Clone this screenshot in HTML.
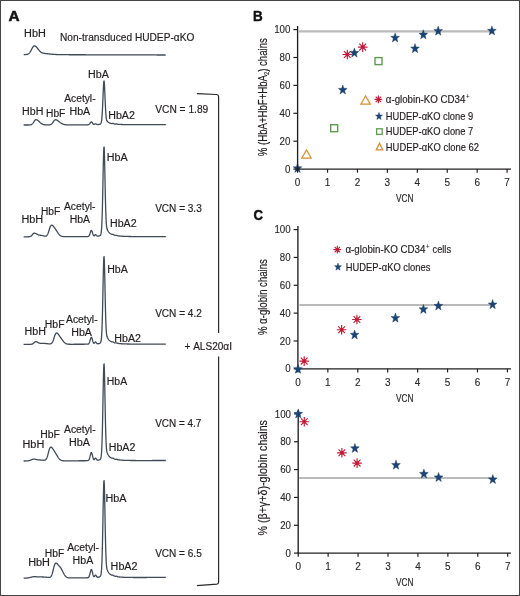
<!DOCTYPE html>
<html><head><meta charset="utf-8"><style>
html,body{margin:0;padding:0;background:#fff;}
#fig{position:relative;width:518px;height:594px;border:1px solid #444;overflow:hidden;background:#fff;}
svg{position:absolute;left:-1px;top:-1px;will-change:transform;}
text{font-family:"Liberation Sans", sans-serif;font-kerning:none;}
</style></head><body><div id="fig">
<svg width="520" height="596" viewBox="0 0 520 596">
<polygon points="297.50,163.40 298.64,166.70 301.87,166.85 299.34,169.05 300.20,172.45 297.50,170.50 294.80,172.45 295.66,169.05 293.13,166.85 296.36,166.70" fill="#1a4576" stroke="#12325a" stroke-width="0.4" stroke-linejoin="miter"/>
<line x1="297.60" y1="26.00" x2="297.60" y2="169.10" stroke="#231f20" stroke-width="1.35"/>
<line x1="296.90" y1="169.10" x2="511.00" y2="169.10" stroke="#231f20" stroke-width="1.35"/>
<line x1="293.40" y1="169.10" x2="297.60" y2="169.10" stroke="#231f20" stroke-width="1.2"/>
<text x="290.40" y="172.70" font-size="11.6" font-weight="normal" fill="#2a2a2a" stroke="#2a2a2a" stroke-width="0.15" text-anchor="end" textLength="5.42" lengthAdjust="spacingAndGlyphs">0</text>
<line x1="293.40" y1="141.20" x2="297.60" y2="141.20" stroke="#231f20" stroke-width="1.2"/>
<text x="290.40" y="144.80" font-size="11.6" font-weight="normal" fill="#2a2a2a" stroke="#2a2a2a" stroke-width="0.15" text-anchor="end" textLength="10.84" lengthAdjust="spacingAndGlyphs">20</text>
<line x1="293.40" y1="113.30" x2="297.60" y2="113.30" stroke="#231f20" stroke-width="1.2"/>
<text x="290.40" y="116.90" font-size="11.6" font-weight="normal" fill="#2a2a2a" stroke="#2a2a2a" stroke-width="0.15" text-anchor="end" textLength="10.84" lengthAdjust="spacingAndGlyphs">40</text>
<line x1="293.40" y1="85.40" x2="297.60" y2="85.40" stroke="#231f20" stroke-width="1.2"/>
<text x="290.40" y="89.00" font-size="11.6" font-weight="normal" fill="#2a2a2a" stroke="#2a2a2a" stroke-width="0.15" text-anchor="end" textLength="10.84" lengthAdjust="spacingAndGlyphs">60</text>
<line x1="293.40" y1="57.50" x2="297.60" y2="57.50" stroke="#231f20" stroke-width="1.2"/>
<text x="290.40" y="61.10" font-size="11.6" font-weight="normal" fill="#2a2a2a" stroke="#2a2a2a" stroke-width="0.15" text-anchor="end" textLength="10.84" lengthAdjust="spacingAndGlyphs">80</text>
<line x1="293.40" y1="29.60" x2="297.60" y2="29.60" stroke="#231f20" stroke-width="1.2"/>
<text x="290.40" y="33.20" font-size="11.6" font-weight="normal" fill="#2a2a2a" stroke="#2a2a2a" stroke-width="0.15" text-anchor="end" textLength="16.25" lengthAdjust="spacingAndGlyphs">100</text>
<line x1="297.60" y1="169.10" x2="297.60" y2="172.70" stroke="#231f20" stroke-width="1.2"/>
<text x="297.60" y="185.90" font-size="11.6" font-weight="normal" fill="#2a2a2a" stroke="#2a2a2a" stroke-width="0.15" text-anchor="middle" textLength="5.55" lengthAdjust="spacingAndGlyphs">0</text>
<line x1="327.53" y1="169.10" x2="327.53" y2="172.70" stroke="#231f20" stroke-width="1.2"/>
<text x="327.53" y="185.90" font-size="11.6" font-weight="normal" fill="#2a2a2a" stroke="#2a2a2a" stroke-width="0.15" text-anchor="middle" textLength="5.55" lengthAdjust="spacingAndGlyphs">1</text>
<line x1="357.46" y1="169.10" x2="357.46" y2="172.70" stroke="#231f20" stroke-width="1.2"/>
<text x="357.46" y="185.90" font-size="11.6" font-weight="normal" fill="#2a2a2a" stroke="#2a2a2a" stroke-width="0.15" text-anchor="middle" textLength="5.55" lengthAdjust="spacingAndGlyphs">2</text>
<line x1="387.39" y1="169.10" x2="387.39" y2="172.70" stroke="#231f20" stroke-width="1.2"/>
<text x="387.39" y="185.90" font-size="11.6" font-weight="normal" fill="#2a2a2a" stroke="#2a2a2a" stroke-width="0.15" text-anchor="middle" textLength="5.55" lengthAdjust="spacingAndGlyphs">3</text>
<line x1="417.32" y1="169.10" x2="417.32" y2="172.70" stroke="#231f20" stroke-width="1.2"/>
<text x="417.32" y="185.90" font-size="11.6" font-weight="normal" fill="#2a2a2a" stroke="#2a2a2a" stroke-width="0.15" text-anchor="middle" textLength="5.55" lengthAdjust="spacingAndGlyphs">4</text>
<line x1="447.25" y1="169.10" x2="447.25" y2="172.70" stroke="#231f20" stroke-width="1.2"/>
<text x="447.25" y="185.90" font-size="11.6" font-weight="normal" fill="#2a2a2a" stroke="#2a2a2a" stroke-width="0.15" text-anchor="middle" textLength="5.55" lengthAdjust="spacingAndGlyphs">5</text>
<line x1="477.18" y1="169.10" x2="477.18" y2="172.70" stroke="#231f20" stroke-width="1.2"/>
<text x="477.18" y="185.90" font-size="11.6" font-weight="normal" fill="#2a2a2a" stroke="#2a2a2a" stroke-width="0.15" text-anchor="middle" textLength="5.55" lengthAdjust="spacingAndGlyphs">6</text>
<line x1="507.11" y1="169.10" x2="507.11" y2="172.70" stroke="#231f20" stroke-width="1.2"/>
<text x="507.11" y="185.90" font-size="11.6" font-weight="normal" fill="#2a2a2a" stroke="#2a2a2a" stroke-width="0.15" text-anchor="middle" textLength="5.55" lengthAdjust="spacingAndGlyphs">7</text>
<text x="396.00" y="201.80" font-size="11.5" font-weight="normal" fill="#2a2a2a" stroke="#2a2a2a" stroke-width="0.2" text-anchor="start" textLength="17.50" lengthAdjust="spacingAndGlyphs">VCN</text>
<text transform="translate(266.80,156.20) rotate(-90)" x="0" y="0" font-size="12.0" fill="#231f20" stroke="#231f20" stroke-width="0.2" textLength="118.00" lengthAdjust="spacingAndGlyphs">% (HbA+HbF+HbA<tspan font-size="7" dy="2">2</tspan><tspan dy="-2">) chains</tspan></text>
<line x1="298.60" y1="31.30" x2="491.50" y2="31.30" stroke="#bababa" stroke-width="2.2"/>
<rect x="330.70" y="124.70" width="7.0" height="7.0" fill="none" stroke="#5e9c50" stroke-width="1.4"/>
<rect x="375.00" y="57.60" width="7.0" height="7.0" fill="none" stroke="#5e9c50" stroke-width="1.4"/>
<polygon points="306.50,149.90 311.20,158.10 301.80,158.10" fill="none" stroke="#d98e36" stroke-width="1.2" stroke-linejoin="miter"/>
<polygon points="365.60,96.00 370.30,104.20 360.90,104.20" fill="none" stroke="#d98e36" stroke-width="1.2" stroke-linejoin="miter"/>
<path d="M342.50,54.50L352.10,54.50M343.91,51.11L350.69,57.89M347.30,49.70L347.30,59.30M350.69,51.11L343.91,57.89" stroke="#c21d3b" stroke-width="1.15" fill="none"/>
<circle cx="347.30" cy="54.50" r="1.92" fill="#c21d3b"/>
<path d="M357.90,47.10L367.50,47.10M359.31,43.71L366.09,50.49M362.70,42.30L362.70,51.90M366.09,43.71L359.31,50.49" stroke="#c21d3b" stroke-width="1.15" fill="none"/>
<circle cx="362.70" cy="47.10" r="1.92" fill="#c21d3b"/>
<polygon points="342.80,85.00 343.94,88.30 347.17,88.45 344.64,90.65 345.50,94.05 342.80,92.10 340.10,94.05 340.96,90.65 338.43,88.45 341.66,88.30" fill="#1a4576" stroke="#12325a" stroke-width="0.4" stroke-linejoin="miter"/>
<polygon points="354.40,48.00 355.54,51.30 358.77,51.45 356.24,53.65 357.10,57.05 354.40,55.10 351.70,57.05 352.56,53.65 350.03,51.45 353.26,51.30" fill="#1a4576" stroke="#12325a" stroke-width="0.4" stroke-linejoin="miter"/>
<polygon points="395.10,32.90 396.24,36.20 399.47,36.35 396.94,38.55 397.80,41.95 395.10,40.00 392.40,41.95 393.26,38.55 390.73,36.35 393.96,36.20" fill="#1a4576" stroke="#12325a" stroke-width="0.4" stroke-linejoin="miter"/>
<polygon points="415.00,43.60 416.14,46.90 419.37,47.05 416.84,49.25 417.70,52.65 415.00,50.70 412.30,52.65 413.16,49.25 410.63,47.05 413.86,46.90" fill="#1a4576" stroke="#12325a" stroke-width="0.4" stroke-linejoin="miter"/>
<polygon points="423.30,29.80 424.44,33.10 427.67,33.25 425.14,35.45 426.00,38.85 423.30,36.90 420.60,38.85 421.46,35.45 418.93,33.25 422.16,33.10" fill="#1a4576" stroke="#12325a" stroke-width="0.4" stroke-linejoin="miter"/>
<polygon points="438.20,26.10 439.34,29.40 442.57,29.55 440.04,31.75 440.90,35.15 438.20,33.20 435.50,35.15 436.36,31.75 433.83,29.55 437.06,29.40" fill="#1a4576" stroke="#12325a" stroke-width="0.4" stroke-linejoin="miter"/>
<polygon points="491.90,25.90 493.04,29.20 496.27,29.35 493.74,31.55 494.60,34.95 491.90,33.00 489.20,34.95 490.06,31.55 487.53,29.35 490.76,29.20" fill="#1a4576" stroke="#12325a" stroke-width="0.4" stroke-linejoin="miter"/>
<path d="M374.60,99.40L382.20,99.40M375.71,96.71L381.09,102.09M378.40,95.60L378.40,103.20M381.09,96.71L375.71,102.09" stroke="#c21d3b" stroke-width="1.15" fill="none"/>
<circle cx="378.40" cy="99.40" r="1.52" fill="#c21d3b"/>
<polygon points="379.00,112.30 379.91,114.94 382.50,115.06 380.47,116.82 381.16,119.54 379.00,117.98 376.84,119.54 377.53,116.82 375.50,115.06 378.09,114.94" fill="#1a4576" stroke="#12325a" stroke-width="0.4" stroke-linejoin="miter"/>
<rect x="376.60" y="128.80" width="5.6" height="5.6" fill="none" stroke="#5e9c50" stroke-width="1.3"/>
<polygon points="379.50,143.30 382.70,149.90 376.30,149.90" fill="none" stroke="#d98e36" stroke-width="1.3" stroke-linejoin="miter"/>
<text x="385.79" y="102.80" font-size="10.3" font-weight="normal" fill="#231f20" stroke="#231f20" stroke-width="0.18" text-anchor="start" textLength="79.59" lengthAdjust="spacingAndGlyphs">α-globin-KO CD34</text>
<text x="466.00" y="98.70" font-size="6.8" font-weight="normal" fill="#231f20" stroke="#231f20" stroke-width="0.1" text-anchor="start" textLength="3.60" lengthAdjust="spacingAndGlyphs">+</text>
<text x="385.83" y="119.70" font-size="10.3" font-weight="normal" fill="#231f20" stroke="#231f20" stroke-width="0.18" text-anchor="start" textLength="87.41" lengthAdjust="spacingAndGlyphs">HUDEP-αKO clone 9</text>
<text x="385.83" y="135.30" font-size="10.3" font-weight="normal" fill="#231f20" stroke="#231f20" stroke-width="0.18" text-anchor="start" textLength="87.44" lengthAdjust="spacingAndGlyphs">HUDEP-αKO clone 7</text>
<text x="385.83" y="150.80" font-size="10.3" font-weight="normal" fill="#231f20" stroke="#231f20" stroke-width="0.18" text-anchor="start" textLength="93.14" lengthAdjust="spacingAndGlyphs">HUDEP-αKO clone 62</text>
<line x1="297.90" y1="226.00" x2="297.90" y2="368.80" stroke="#231f20" stroke-width="1.35"/>
<line x1="297.20" y1="368.80" x2="511.00" y2="368.80" stroke="#231f20" stroke-width="1.35"/>
<line x1="293.70" y1="368.80" x2="297.90" y2="368.80" stroke="#231f20" stroke-width="1.2"/>
<text x="290.70" y="372.40" font-size="11.6" font-weight="normal" fill="#2a2a2a" stroke="#2a2a2a" stroke-width="0.15" text-anchor="end" textLength="5.42" lengthAdjust="spacingAndGlyphs">0</text>
<line x1="293.70" y1="340.96" x2="297.90" y2="340.96" stroke="#231f20" stroke-width="1.2"/>
<text x="290.70" y="344.56" font-size="11.6" font-weight="normal" fill="#2a2a2a" stroke="#2a2a2a" stroke-width="0.15" text-anchor="end" textLength="10.84" lengthAdjust="spacingAndGlyphs">20</text>
<line x1="293.70" y1="313.12" x2="297.90" y2="313.12" stroke="#231f20" stroke-width="1.2"/>
<text x="290.70" y="316.72" font-size="11.6" font-weight="normal" fill="#2a2a2a" stroke="#2a2a2a" stroke-width="0.15" text-anchor="end" textLength="10.84" lengthAdjust="spacingAndGlyphs">40</text>
<line x1="293.70" y1="285.28" x2="297.90" y2="285.28" stroke="#231f20" stroke-width="1.2"/>
<text x="290.70" y="288.88" font-size="11.6" font-weight="normal" fill="#2a2a2a" stroke="#2a2a2a" stroke-width="0.15" text-anchor="end" textLength="10.84" lengthAdjust="spacingAndGlyphs">60</text>
<line x1="293.70" y1="257.44" x2="297.90" y2="257.44" stroke="#231f20" stroke-width="1.2"/>
<text x="290.70" y="261.04" font-size="11.6" font-weight="normal" fill="#2a2a2a" stroke="#2a2a2a" stroke-width="0.15" text-anchor="end" textLength="10.84" lengthAdjust="spacingAndGlyphs">80</text>
<line x1="293.70" y1="229.60" x2="297.90" y2="229.60" stroke="#231f20" stroke-width="1.2"/>
<text x="290.70" y="233.20" font-size="11.6" font-weight="normal" fill="#2a2a2a" stroke="#2a2a2a" stroke-width="0.15" text-anchor="end" textLength="16.25" lengthAdjust="spacingAndGlyphs">100</text>
<line x1="297.90" y1="368.80" x2="297.90" y2="372.40" stroke="#231f20" stroke-width="1.2"/>
<text x="297.90" y="385.60" font-size="11.6" font-weight="normal" fill="#2a2a2a" stroke="#2a2a2a" stroke-width="0.15" text-anchor="middle" textLength="5.55" lengthAdjust="spacingAndGlyphs">0</text>
<line x1="327.83" y1="368.80" x2="327.83" y2="372.40" stroke="#231f20" stroke-width="1.2"/>
<text x="327.83" y="385.60" font-size="11.6" font-weight="normal" fill="#2a2a2a" stroke="#2a2a2a" stroke-width="0.15" text-anchor="middle" textLength="5.55" lengthAdjust="spacingAndGlyphs">1</text>
<line x1="357.76" y1="368.80" x2="357.76" y2="372.40" stroke="#231f20" stroke-width="1.2"/>
<text x="357.76" y="385.60" font-size="11.6" font-weight="normal" fill="#2a2a2a" stroke="#2a2a2a" stroke-width="0.15" text-anchor="middle" textLength="5.55" lengthAdjust="spacingAndGlyphs">2</text>
<line x1="387.69" y1="368.80" x2="387.69" y2="372.40" stroke="#231f20" stroke-width="1.2"/>
<text x="387.69" y="385.60" font-size="11.6" font-weight="normal" fill="#2a2a2a" stroke="#2a2a2a" stroke-width="0.15" text-anchor="middle" textLength="5.55" lengthAdjust="spacingAndGlyphs">3</text>
<line x1="417.62" y1="368.80" x2="417.62" y2="372.40" stroke="#231f20" stroke-width="1.2"/>
<text x="417.62" y="385.60" font-size="11.6" font-weight="normal" fill="#2a2a2a" stroke="#2a2a2a" stroke-width="0.15" text-anchor="middle" textLength="5.55" lengthAdjust="spacingAndGlyphs">4</text>
<line x1="447.55" y1="368.80" x2="447.55" y2="372.40" stroke="#231f20" stroke-width="1.2"/>
<text x="447.55" y="385.60" font-size="11.6" font-weight="normal" fill="#2a2a2a" stroke="#2a2a2a" stroke-width="0.15" text-anchor="middle" textLength="5.55" lengthAdjust="spacingAndGlyphs">5</text>
<line x1="477.48" y1="368.80" x2="477.48" y2="372.40" stroke="#231f20" stroke-width="1.2"/>
<text x="477.48" y="385.60" font-size="11.6" font-weight="normal" fill="#2a2a2a" stroke="#2a2a2a" stroke-width="0.15" text-anchor="middle" textLength="5.55" lengthAdjust="spacingAndGlyphs">6</text>
<line x1="507.41" y1="368.80" x2="507.41" y2="372.40" stroke="#231f20" stroke-width="1.2"/>
<text x="507.41" y="385.60" font-size="11.6" font-weight="normal" fill="#2a2a2a" stroke="#2a2a2a" stroke-width="0.15" text-anchor="middle" textLength="5.55" lengthAdjust="spacingAndGlyphs">7</text>
<text x="396.00" y="401.50" font-size="11.5" font-weight="normal" fill="#2a2a2a" stroke="#2a2a2a" stroke-width="0.2" text-anchor="start" textLength="17.50" lengthAdjust="spacingAndGlyphs">VCN</text>
<text transform="translate(266.80,335.00) rotate(-90)" x="0" y="0" font-size="12.0" fill="#231f20" stroke="#231f20" stroke-width="0.2" textLength="75.80" lengthAdjust="spacingAndGlyphs">% α-globin chains</text>
<line x1="299.40" y1="305.00" x2="490.00" y2="305.00" stroke="#bababa" stroke-width="2.2"/>
<path d="M299.40,361.10L309.00,361.10M300.81,357.71L307.59,364.49M304.20,356.30L304.20,365.90M307.59,357.71L300.81,364.49" stroke="#c21d3b" stroke-width="1.15" fill="none"/>
<circle cx="304.20" cy="361.10" r="1.92" fill="#c21d3b"/>
<path d="M336.80,329.70L346.40,329.70M338.21,326.31L344.99,333.09M341.60,324.90L341.60,334.50M344.99,326.31L338.21,333.09" stroke="#c21d3b" stroke-width="1.15" fill="none"/>
<circle cx="341.60" cy="329.70" r="1.92" fill="#c21d3b"/>
<path d="M352.10,319.50L361.70,319.50M353.51,316.11L360.29,322.89M356.90,314.70L356.90,324.30M360.29,316.11L353.51,322.89" stroke="#c21d3b" stroke-width="1.15" fill="none"/>
<circle cx="356.90" cy="319.50" r="1.92" fill="#c21d3b"/>
<polygon points="298.00,364.30 299.14,367.60 302.37,367.75 299.84,369.95 300.70,373.35 298.00,371.40 295.30,373.35 296.16,369.95 293.63,367.75 296.86,367.60" fill="#1a4576" stroke="#12325a" stroke-width="0.4" stroke-linejoin="miter"/>
<polygon points="354.60,329.90 355.74,333.20 358.97,333.35 356.44,335.55 357.30,338.95 354.60,337.00 351.90,338.95 352.76,335.55 350.23,333.35 353.46,333.20" fill="#1a4576" stroke="#12325a" stroke-width="0.4" stroke-linejoin="miter"/>
<polygon points="395.40,313.10 396.54,316.40 399.77,316.55 397.24,318.75 398.10,322.15 395.40,320.20 392.70,322.15 393.56,318.75 391.03,316.55 394.26,316.40" fill="#1a4576" stroke="#12325a" stroke-width="0.4" stroke-linejoin="miter"/>
<polygon points="423.40,304.40 424.54,307.70 427.77,307.85 425.24,310.05 426.10,313.45 423.40,311.50 420.70,313.45 421.56,310.05 419.03,307.85 422.26,307.70" fill="#1a4576" stroke="#12325a" stroke-width="0.4" stroke-linejoin="miter"/>
<polygon points="438.40,301.00 439.54,304.30 442.77,304.45 440.24,306.65 441.10,310.05 438.40,308.10 435.70,310.05 436.56,306.65 434.03,304.45 437.26,304.30" fill="#1a4576" stroke="#12325a" stroke-width="0.4" stroke-linejoin="miter"/>
<polygon points="492.60,299.60 493.74,302.90 496.97,303.05 494.44,305.25 495.30,308.65 492.60,306.70 489.90,308.65 490.76,305.25 488.23,303.05 491.46,302.90" fill="#1a4576" stroke="#12325a" stroke-width="0.4" stroke-linejoin="miter"/>
<path d="M333.50,249.60L341.10,249.60M334.61,246.91L339.99,252.29M337.30,245.80L337.30,253.40M339.99,246.91L334.61,252.29" stroke="#c21d3b" stroke-width="1.15" fill="none"/>
<circle cx="337.30" cy="249.60" r="1.52" fill="#c21d3b"/>
<polygon points="338.00,263.00 338.91,265.64 341.50,265.76 339.47,267.52 340.16,270.24 338.00,268.68 335.84,270.24 336.53,267.52 334.50,265.76 337.09,265.64" fill="#1a4576" stroke="#12325a" stroke-width="0.4" stroke-linejoin="miter"/>
<text x="345.49" y="253.00" font-size="10.3" font-weight="normal" fill="#231f20" stroke="#231f20" stroke-width="0.18" text-anchor="start" textLength="79.90" lengthAdjust="spacingAndGlyphs">α-globin-KO CD34</text>
<text x="426.00" y="249.00" font-size="6.8" font-weight="normal" fill="#231f20" stroke="#231f20" stroke-width="0.1" text-anchor="start" textLength="3.60" lengthAdjust="spacingAndGlyphs">+</text>
<text x="432.51" y="253.00" font-size="10.3" font-weight="normal" fill="#231f20" stroke="#231f20" stroke-width="0.18" text-anchor="start" textLength="18.53" lengthAdjust="spacingAndGlyphs">cells</text>
<text x="345.83" y="270.90" font-size="10.3" font-weight="normal" fill="#231f20" stroke="#231f20" stroke-width="0.18" text-anchor="start" textLength="84.51" lengthAdjust="spacingAndGlyphs">HUDEP-αKO clones</text>
<line x1="298.20" y1="410.30" x2="298.20" y2="553.10" stroke="#231f20" stroke-width="1.35"/>
<line x1="297.50" y1="553.10" x2="511.00" y2="553.10" stroke="#231f20" stroke-width="1.35"/>
<line x1="294.00" y1="553.10" x2="298.20" y2="553.10" stroke="#231f20" stroke-width="1.2"/>
<text x="291.00" y="556.70" font-size="11.6" font-weight="normal" fill="#2a2a2a" stroke="#2a2a2a" stroke-width="0.15" text-anchor="end" textLength="5.42" lengthAdjust="spacingAndGlyphs">0</text>
<line x1="294.00" y1="525.26" x2="298.20" y2="525.26" stroke="#231f20" stroke-width="1.2"/>
<text x="291.00" y="528.86" font-size="11.6" font-weight="normal" fill="#2a2a2a" stroke="#2a2a2a" stroke-width="0.15" text-anchor="end" textLength="10.84" lengthAdjust="spacingAndGlyphs">20</text>
<line x1="294.00" y1="497.42" x2="298.20" y2="497.42" stroke="#231f20" stroke-width="1.2"/>
<text x="291.00" y="501.02" font-size="11.6" font-weight="normal" fill="#2a2a2a" stroke="#2a2a2a" stroke-width="0.15" text-anchor="end" textLength="10.84" lengthAdjust="spacingAndGlyphs">40</text>
<line x1="294.00" y1="469.58" x2="298.20" y2="469.58" stroke="#231f20" stroke-width="1.2"/>
<text x="291.00" y="473.18" font-size="11.6" font-weight="normal" fill="#2a2a2a" stroke="#2a2a2a" stroke-width="0.15" text-anchor="end" textLength="10.84" lengthAdjust="spacingAndGlyphs">60</text>
<line x1="294.00" y1="441.74" x2="298.20" y2="441.74" stroke="#231f20" stroke-width="1.2"/>
<text x="291.00" y="445.34" font-size="11.6" font-weight="normal" fill="#2a2a2a" stroke="#2a2a2a" stroke-width="0.15" text-anchor="end" textLength="10.84" lengthAdjust="spacingAndGlyphs">80</text>
<line x1="294.00" y1="413.90" x2="298.20" y2="413.90" stroke="#231f20" stroke-width="1.2"/>
<text x="291.00" y="417.50" font-size="11.6" font-weight="normal" fill="#2a2a2a" stroke="#2a2a2a" stroke-width="0.15" text-anchor="end" textLength="16.25" lengthAdjust="spacingAndGlyphs">100</text>
<line x1="298.20" y1="553.10" x2="298.20" y2="556.70" stroke="#231f20" stroke-width="1.2"/>
<text x="298.20" y="569.60" font-size="11.6" font-weight="normal" fill="#2a2a2a" stroke="#2a2a2a" stroke-width="0.15" text-anchor="middle" textLength="5.55" lengthAdjust="spacingAndGlyphs">0</text>
<line x1="328.13" y1="553.10" x2="328.13" y2="556.70" stroke="#231f20" stroke-width="1.2"/>
<text x="328.13" y="569.60" font-size="11.6" font-weight="normal" fill="#2a2a2a" stroke="#2a2a2a" stroke-width="0.15" text-anchor="middle" textLength="5.55" lengthAdjust="spacingAndGlyphs">1</text>
<line x1="358.06" y1="553.10" x2="358.06" y2="556.70" stroke="#231f20" stroke-width="1.2"/>
<text x="358.06" y="569.60" font-size="11.6" font-weight="normal" fill="#2a2a2a" stroke="#2a2a2a" stroke-width="0.15" text-anchor="middle" textLength="5.55" lengthAdjust="spacingAndGlyphs">2</text>
<line x1="387.99" y1="553.10" x2="387.99" y2="556.70" stroke="#231f20" stroke-width="1.2"/>
<text x="387.99" y="569.60" font-size="11.6" font-weight="normal" fill="#2a2a2a" stroke="#2a2a2a" stroke-width="0.15" text-anchor="middle" textLength="5.55" lengthAdjust="spacingAndGlyphs">3</text>
<line x1="417.92" y1="553.10" x2="417.92" y2="556.70" stroke="#231f20" stroke-width="1.2"/>
<text x="417.92" y="569.60" font-size="11.6" font-weight="normal" fill="#2a2a2a" stroke="#2a2a2a" stroke-width="0.15" text-anchor="middle" textLength="5.55" lengthAdjust="spacingAndGlyphs">4</text>
<line x1="447.85" y1="553.10" x2="447.85" y2="556.70" stroke="#231f20" stroke-width="1.2"/>
<text x="447.85" y="569.60" font-size="11.6" font-weight="normal" fill="#2a2a2a" stroke="#2a2a2a" stroke-width="0.15" text-anchor="middle" textLength="5.55" lengthAdjust="spacingAndGlyphs">5</text>
<line x1="477.78" y1="553.10" x2="477.78" y2="556.70" stroke="#231f20" stroke-width="1.2"/>
<text x="477.78" y="569.60" font-size="11.6" font-weight="normal" fill="#2a2a2a" stroke="#2a2a2a" stroke-width="0.15" text-anchor="middle" textLength="5.55" lengthAdjust="spacingAndGlyphs">6</text>
<line x1="507.71" y1="553.10" x2="507.71" y2="556.70" stroke="#231f20" stroke-width="1.2"/>
<text x="507.71" y="569.60" font-size="11.6" font-weight="normal" fill="#2a2a2a" stroke="#2a2a2a" stroke-width="0.15" text-anchor="middle" textLength="5.55" lengthAdjust="spacingAndGlyphs">7</text>
<text x="396.00" y="585.70" font-size="11.5" font-weight="normal" fill="#2a2a2a" stroke="#2a2a2a" stroke-width="0.2" text-anchor="start" textLength="17.50" lengthAdjust="spacingAndGlyphs">VCN</text>
<text transform="translate(266.80,535.40) rotate(-90)" x="0" y="0" font-size="12.0" fill="#231f20" stroke="#231f20" stroke-width="0.2" textLength="115.30" lengthAdjust="spacingAndGlyphs">% (β+γ+δ)-globin chains</text>
<line x1="299.20" y1="478.00" x2="491.00" y2="478.00" stroke="#bababa" stroke-width="2.2"/>
<path d="M299.50,421.70L309.10,421.70M300.91,418.31L307.69,425.09M304.30,416.90L304.30,426.50M307.69,418.31L300.91,425.09" stroke="#c21d3b" stroke-width="1.15" fill="none"/>
<circle cx="304.30" cy="421.70" r="1.92" fill="#c21d3b"/>
<path d="M337.10,452.80L346.70,452.80M338.51,449.41L345.29,456.19M341.90,448.00L341.90,457.60M345.29,449.41L338.51,456.19" stroke="#c21d3b" stroke-width="1.15" fill="none"/>
<circle cx="341.90" cy="452.80" r="1.92" fill="#c21d3b"/>
<path d="M352.30,463.10L361.90,463.10M353.71,459.71L360.49,466.49M357.10,458.30L357.10,467.90M360.49,459.71L353.71,466.49" stroke="#c21d3b" stroke-width="1.15" fill="none"/>
<circle cx="357.10" cy="463.10" r="1.92" fill="#c21d3b"/>
<polygon points="298.30,408.90 299.44,412.20 302.67,412.35 300.14,414.55 301.00,417.95 298.30,416.00 295.60,417.95 296.46,414.55 293.93,412.35 297.16,412.20" fill="#1a4576" stroke="#12325a" stroke-width="0.4" stroke-linejoin="miter"/>
<polygon points="354.90,443.40 356.04,446.70 359.27,446.85 356.74,449.05 357.60,452.45 354.90,450.50 352.20,452.45 353.06,449.05 350.53,446.85 353.76,446.70" fill="#1a4576" stroke="#12325a" stroke-width="0.4" stroke-linejoin="miter"/>
<polygon points="396.00,460.10 397.14,463.40 400.37,463.55 397.84,465.75 398.70,469.15 396.00,467.20 393.30,469.15 394.16,465.75 391.63,463.55 394.86,463.40" fill="#1a4576" stroke="#12325a" stroke-width="0.4" stroke-linejoin="miter"/>
<polygon points="423.90,469.00 425.04,472.30 428.27,472.45 425.74,474.65 426.60,478.05 423.90,476.10 421.20,478.05 422.06,474.65 419.53,472.45 422.76,472.30" fill="#1a4576" stroke="#12325a" stroke-width="0.4" stroke-linejoin="miter"/>
<polygon points="438.60,472.50 439.74,475.80 442.97,475.95 440.44,478.15 441.30,481.55 438.60,479.60 435.90,481.55 436.76,478.15 434.23,475.95 437.46,475.80" fill="#1a4576" stroke="#12325a" stroke-width="0.4" stroke-linejoin="miter"/>
<polygon points="492.80,474.50 493.94,477.80 497.17,477.95 494.64,480.15 495.50,483.55 492.80,481.60 490.10,483.55 490.96,480.15 488.43,477.95 491.66,477.80" fill="#1a4576" stroke="#12325a" stroke-width="0.4" stroke-linejoin="miter"/>
<text x="8.52" y="20.60" font-size="14.4" font-weight="bold" fill="#111" stroke="#111" stroke-width="0.5" text-anchor="start" textLength="11.09" lengthAdjust="spacingAndGlyphs">A</text>
<text x="252.90" y="21.30" font-size="14.8" font-weight="bold" fill="#111" stroke="#111" stroke-width="0.5" text-anchor="start" textLength="9.71" lengthAdjust="spacingAndGlyphs">B</text>
<text x="253.46" y="219.50" font-size="14.6" font-weight="bold" fill="#111" stroke="#111" stroke-width="0.5" text-anchor="start" textLength="9.50" lengthAdjust="spacingAndGlyphs">C</text>
<polyline points="23.70,54.60 23.95,54.60 24.20,54.59 24.45,54.59 24.70,54.59 24.95,54.58 25.20,54.57 25.45,54.56 25.70,54.55 25.95,54.53 26.20,54.51 26.45,54.48 26.70,54.44 26.95,54.40 27.20,54.34 27.45,54.27 27.70,54.18 27.95,54.07 28.20,53.94 28.45,53.79 28.70,53.61 28.95,53.41 29.20,53.17 29.45,52.90 29.70,52.60 29.95,52.27 30.20,51.90 30.45,51.50 30.70,51.08 30.95,50.63 31.20,50.16 31.45,49.68 31.70,49.20 31.95,48.71 32.20,48.24 32.45,47.79 32.70,47.37 32.95,46.98 33.20,46.64 33.45,46.36 33.70,46.14 33.95,45.98 34.20,45.89 34.45,45.87 34.70,45.89 34.95,45.95 35.20,46.06 35.45,46.20 35.70,46.37 35.95,46.58 36.20,46.81 36.45,47.07 36.70,47.35 36.95,47.64 37.20,47.95 37.45,48.26 37.70,48.58 37.95,48.90 38.20,49.22 38.45,49.53 38.70,49.83 38.95,50.13 39.20,50.42 39.45,50.69 39.70,50.95 39.95,51.21 40.20,51.44 40.45,51.67 40.70,51.89 40.95,52.08 41.20,52.26 41.45,52.42 41.70,52.56 41.95,52.69 42.20,52.80 42.45,52.90 42.70,53.00 42.95,53.08 43.20,53.15 43.45,53.21 43.70,53.27 43.95,53.32 44.20,53.37 44.45,53.41 44.70,53.45 44.95,53.48 45.20,53.52 45.45,53.55 45.70,53.58 45.95,53.61 46.20,53.64 46.45,53.66 46.70,53.69 46.95,53.72 47.20,53.74 47.45,53.77 47.70,53.80 47.95,53.82 48.20,53.85 48.45,53.87 48.70,53.90 48.95,53.93 49.20,53.95 49.45,53.98 49.70,54.00 49.95,54.03 50.20,54.05 50.45,54.08 50.70,54.10 50.95,54.12 51.20,54.15 51.45,54.17 51.70,54.19 51.95,54.21 52.20,54.23 52.45,54.25 52.70,54.28 52.95,54.30 53.20,54.31 53.45,54.33 53.70,54.35 53.95,54.37 54.20,54.39 54.45,54.40 54.70,54.42 54.95,54.43 55.20,54.45 55.45,54.46 55.70,54.48 55.95,54.49 56.20,54.50 56.45,54.51 56.70,54.53 56.95,54.54 57.20,54.55 57.45,54.56 57.70,54.57 57.95,54.58 58.20,54.58 58.45,54.59 58.70,54.60 58.95,54.61 59.20,54.62 59.45,54.62 59.70,54.63 59.95,54.63 60.20,54.64 60.45,54.65 60.70,54.65 60.95,54.66 61.20,54.66 61.45,54.66 61.70,54.67 61.95,54.67 62.20,54.68 62.45,54.68 62.70,54.68 62.95,54.69 63.20,54.69 63.45,54.69 63.70,54.69 63.95,54.70 64.20,54.70 64.45,54.70 64.70,54.70 64.95,54.70 65.20,54.71 65.45,54.71 65.70,54.71 65.95,54.71 66.20,54.71 66.45,54.71 66.70,54.72 66.95,54.72 67.20,54.72 67.45,54.72 67.70,54.72 67.95,54.72 68.20,54.72 68.45,54.72 68.70,54.72 68.95,54.73 69.20,54.73 69.45,54.73 69.70,54.73 69.95,54.73 70.20,54.73 70.45,54.73 70.70,54.73 70.95,54.73 71.20,54.73 71.45,54.73 71.70,54.73 71.95,54.74 72.20,54.74 72.45,54.74 72.70,54.74 72.95,54.74 73.20,54.74 73.45,54.74 73.70,54.74 73.95,54.74 74.20,54.74 74.45,54.74 74.70,54.74 74.95,54.74 75.20,54.74 75.45,54.75 75.70,54.75 75.95,54.75 76.20,54.75 76.45,54.75 76.70,54.75 76.95,54.75 77.20,54.75 77.45,54.75 77.70,54.75 77.95,54.75 78.20,54.75 78.45,54.75 78.70,54.75 78.95,54.76 79.20,54.76 79.45,54.76 79.70,54.76 79.95,54.76 80.20,54.76 80.45,54.76 80.70,54.76 80.95,54.76 81.20,54.76 81.45,54.76 81.70,54.76 81.95,54.76 82.20,54.76 82.45,54.77 82.70,54.77 82.95,54.77 83.20,54.77 83.45,54.77 83.70,54.77 83.95,54.77 84.20,54.77 84.45,54.77 84.70,54.77 84.95,54.77 85.20,54.77 85.45,54.77 85.70,54.77 85.95,54.78 86.20,54.78 86.45,54.78 86.70,54.78 86.95,54.78 87.20,54.78 87.45,54.78 87.70,54.78 87.95,54.78 88.20,54.78 88.45,54.78 88.70,54.78 88.95,54.78 89.20,54.78 89.45,54.79 89.70,54.79 89.95,54.79 90.20,54.79 90.45,54.79 90.70,54.79 90.95,54.79 91.20,54.79 91.45,54.79 91.70,54.79 91.95,54.79 92.20,54.79 92.45,54.79 92.70,54.79 92.95,54.80 93.20,54.80 93.45,54.80 93.70,54.80 93.95,54.80 94.20,54.80 94.45,54.80 94.70,54.80 94.95,54.80 95.20,54.80 95.45,54.80 95.70,54.80 95.95,54.80 96.20,54.80 96.45,54.80 96.70,54.81 96.95,54.81 97.20,54.81 97.45,54.81 97.70,54.81 97.95,54.81 98.20,54.81 98.45,54.81 98.70,54.81 98.95,54.81 99.20,54.81 99.45,54.81 99.70,54.81 99.95,54.81 100.20,54.82 100.45,54.82 100.70,54.82 100.95,54.82 101.20,54.82 101.45,54.82 101.70,54.82 101.95,54.82 102.20,54.82 102.45,54.82 102.70,54.82 102.95,54.82 103.20,54.82 103.45,54.82 103.70,54.83 103.95,54.83 104.20,54.83 104.45,54.83 104.70,54.83 104.95,54.83 105.20,54.83 105.45,54.83 105.70,54.83 105.95,54.83 106.20,54.83 106.45,54.83 106.70,54.83 106.95,54.83 107.20,54.84 107.45,54.84 107.70,54.84 107.95,54.84 108.20,54.84 108.45,54.84 108.70,54.84 108.95,54.84 109.20,54.84 109.45,54.84 109.70,54.84 109.95,54.84 110.20,54.84 110.45,54.84 110.70,54.85 110.95,54.85 111.20,54.85 111.45,54.85 111.70,54.85 111.95,54.85 112.20,54.85 112.45,54.85 112.70,54.85 112.95,54.85 113.20,54.85 113.45,54.85 113.70,54.85 113.95,54.85 114.20,54.85 114.45,54.86 114.70,54.86 114.95,54.86 115.20,54.86 115.45,54.86 115.70,54.86 115.95,54.86 116.20,54.86 116.45,54.86 116.70,54.86 116.95,54.86 117.20,54.86 117.45,54.86 117.70,54.86 117.95,54.87 118.20,54.87 118.45,54.87 118.70,54.87 118.95,54.87 119.20,54.87 119.45,54.87 119.70,54.87 119.95,54.87 120.20,54.87 120.45,54.87 120.70,54.87 120.95,54.87 121.20,54.87 121.45,54.88 121.70,54.88 121.95,54.88 122.20,54.88 122.45,54.88 122.70,54.88 122.95,54.88 123.20,54.88 123.45,54.88 123.70,54.88 123.95,54.88 124.20,54.88 124.45,54.88 124.70,54.88 124.95,54.89 125.20,54.89 125.45,54.89 125.70,54.89 125.95,54.89 126.20,54.89 126.45,54.89 126.70,54.89 126.95,54.89 127.20,54.89 127.45,54.89 127.70,54.89 127.95,54.89 128.20,54.89 128.45,54.90 128.70,54.90 128.95,54.90 129.20,54.90 129.45,54.90 129.70,54.90 129.95,54.90 130.20,54.90 130.45,54.90 130.70,54.90 130.95,54.90 131.20,54.90 131.45,54.90 131.70,54.90 131.95,54.90 132.20,54.91 132.45,54.91 132.70,54.91 132.95,54.91 133.20,54.91 133.45,54.91 133.70,54.91 133.95,54.91 134.20,54.91 134.45,54.91 134.70,54.91 134.95,54.91 135.20,54.91 135.45,54.91 135.70,54.92 135.95,54.92 136.20,54.92 136.45,54.92 136.70,54.92 136.95,54.92 137.20,54.92 137.45,54.92 137.70,54.92 137.95,54.92 138.20,54.92 138.45,54.92 138.70,54.92 138.95,54.92 139.20,54.93 139.45,54.93 139.70,54.93 139.95,54.93 140.20,54.93 140.45,54.93 140.70,54.93 140.95,54.93 141.20,54.93 141.45,54.93 141.70,54.93 141.95,54.93 142.20,54.93 142.45,54.93 142.70,54.94 142.95,54.94 143.20,54.94 143.45,54.94 143.70,54.94 143.95,54.94 144.20,54.94 144.45,54.94 144.70,54.94 144.95,54.94 145.20,54.94 145.45,54.94 145.70,54.94 145.95,54.94 146.20,54.95 146.45,54.95 146.70,54.95 146.95,54.95 147.20,54.95 147.45,54.95 147.70,54.95 147.95,54.95 148.20,54.95 148.45,54.95 148.70,54.95 148.95,54.95 149.20,54.95 149.45,54.95 149.70,54.95 149.95,54.96 150.20,54.96 150.45,54.96 150.70,54.96 150.95,54.96 151.20,54.96 151.45,54.96 151.70,54.96 151.95,54.96 152.20,54.96 152.45,54.96 152.70,54.96 152.95,54.96 153.20,54.96 153.45,54.97 153.70,54.97 153.95,54.97 154.20,54.97 154.45,54.97 154.70,54.97 154.95,54.97 155.20,54.97 155.45,54.97 155.70,54.97 155.95,54.97 156.20,54.97 156.45,54.97 156.70,54.97 156.95,54.98 157.20,54.98 157.45,54.98 157.70,54.98 157.95,54.98 158.20,54.98 158.45,54.98 158.70,54.98 158.95,54.98 159.20,54.98 159.45,54.98 159.70,54.98 159.95,54.98 160.20,54.98 160.45,54.99 160.70,54.99 160.95,54.99 161.20,54.99 161.45,54.99 161.70,54.99 161.95,54.99 162.20,54.99 162.45,54.99 162.70,54.99 162.95,54.99 163.20,54.99 163.45,54.99 163.70,54.99 163.95,55.00 164.20,55.00 164.45,55.00 164.70,55.00 164.95,55.00 165.20,55.00 165.45,55.00 165.70,55.00" fill="none" stroke="#414b58" stroke-width="1.3" stroke-linejoin="round"/>
<text x="24.11" y="37.00" font-size="10.0" font-weight="normal" fill="#231f20" stroke="#231f20" stroke-width="0.18" text-anchor="start" textLength="21.78" lengthAdjust="spacingAndGlyphs">HbH</text>
<text x="59.97" y="41.00" font-size="10.3" font-weight="normal" fill="#231f20" stroke="#231f20" stroke-width="0.18" text-anchor="start" textLength="134.32" lengthAdjust="spacingAndGlyphs">Non-transduced HUDEP-αKO</text>
<polyline points="23.60,125.00 23.85,125.00 24.10,125.00 24.35,125.00 24.60,125.00 24.85,125.00 25.10,124.99 25.35,124.99 25.60,124.99 25.85,124.99 26.10,124.99 26.35,124.99 26.60,124.99 26.85,124.99 27.10,124.99 27.35,124.99 27.60,124.99 27.85,124.98 28.10,124.98 28.35,124.98 28.60,124.98 28.85,124.97 29.10,124.97 29.35,124.96 29.60,124.94 29.85,124.93 30.10,124.90 30.35,124.87 30.60,124.82 30.85,124.76 31.10,124.68 31.35,124.58 31.60,124.45 31.85,124.29 32.10,124.10 32.35,123.88 32.60,123.61 32.85,123.32 33.10,122.98 33.35,122.62 33.60,122.23 33.85,121.84 34.10,121.43 34.35,121.04 34.60,120.68 34.85,120.35 35.10,120.07 35.35,119.86 35.60,119.72 35.85,119.67 36.10,119.67 36.35,119.71 36.60,119.77 36.85,119.86 37.10,119.98 37.35,120.12 37.60,120.28 37.85,120.46 38.10,120.66 38.35,120.87 38.60,121.09 38.85,121.32 39.10,121.55 39.35,121.79 39.60,122.02 39.85,122.25 40.10,122.48 40.35,122.70 40.60,122.91 40.85,123.11 41.10,123.30 41.35,123.48 41.60,123.65 41.85,123.80 42.10,123.94 42.35,124.07 42.60,124.18 42.85,124.29 43.10,124.38 43.35,124.46 43.60,124.53 43.85,124.60 44.10,124.65 44.35,124.70 44.60,124.74 44.85,124.77 45.10,124.80 45.35,124.82 45.60,124.84 45.85,124.86 46.10,124.87 46.35,124.89 46.60,124.89 46.85,124.90 47.10,124.90 47.35,124.91 47.60,124.91 47.85,124.91 48.10,124.91 48.35,124.90 48.60,124.89 48.85,124.88 49.10,124.86 49.35,124.84 49.60,124.81 49.85,124.77 50.10,124.71 50.35,124.64 50.60,124.55 50.85,124.43 51.10,124.29 51.35,124.11 51.60,123.91 51.85,123.67 52.10,123.39 52.35,123.09 52.60,122.76 52.85,122.40 53.10,122.04 53.35,121.67 53.60,121.30 53.85,120.96 54.10,120.64 54.35,120.36 54.60,120.14 54.85,119.97 55.10,119.85 55.35,119.77 55.60,119.74 55.85,119.74 56.10,119.78 56.35,119.85 56.60,119.95 56.85,120.08 57.10,120.22 57.35,120.39 57.60,120.56 57.85,120.75 58.10,120.94 58.35,121.13 58.60,121.32 58.85,121.52 59.10,121.71 59.35,121.90 59.60,122.08 59.85,122.26 60.10,122.44 60.35,122.62 60.60,122.79 60.85,122.95 61.10,123.11 61.35,123.27 61.60,123.42 61.85,123.56 62.10,123.69 62.35,123.82 62.60,123.94 62.85,124.05 63.10,124.15 63.35,124.25 63.60,124.33 63.85,124.41 64.10,124.48 64.35,124.54 64.60,124.59 64.85,124.64 65.10,124.68 65.35,124.71 65.60,124.74 65.85,124.77 66.10,124.79 66.35,124.80 66.60,124.82 66.85,124.83 67.10,124.84 67.35,124.84 67.60,124.85 67.85,124.85 68.10,124.86 68.35,124.86 68.60,124.86 68.85,124.86 69.10,124.86 69.35,124.86 69.60,124.86 69.85,124.86 70.10,124.86 70.35,124.86 70.60,124.86 70.85,124.86 71.10,124.86 71.35,124.86 71.60,124.86 71.85,124.86 72.10,124.85 72.35,124.85 72.60,124.85 72.85,124.85 73.10,124.85 73.35,124.85 73.60,124.85 73.85,124.85 74.10,124.85 74.35,124.85 74.60,124.85 74.85,124.85 75.10,124.84 75.35,124.84 75.60,124.84 75.85,124.84 76.10,124.84 76.35,124.84 76.60,124.84 76.85,124.84 77.10,124.84 77.35,124.84 77.60,124.84 77.85,124.83 78.10,124.83 78.35,124.83 78.60,124.83 78.85,124.83 79.10,124.83 79.35,124.83 79.60,124.83 79.85,124.83 80.10,124.83 80.35,124.82 80.60,124.82 80.85,124.82 81.10,124.82 81.35,124.82 81.60,124.82 81.85,124.82 82.10,124.82 82.35,124.82 82.60,124.81 82.85,124.81 83.10,124.81 83.35,124.81 83.60,124.81 83.85,124.81 84.10,124.81 84.35,124.81 84.60,124.81 84.85,124.80 85.10,124.80 85.35,124.80 85.60,124.80 85.85,124.80 86.10,124.80 86.35,124.79 86.60,124.79 86.85,124.79 87.10,124.79 87.35,124.78 87.60,124.77 87.85,124.75 88.10,124.72 88.35,124.67 88.60,124.59 88.85,124.47 89.10,124.31 89.35,124.10 89.60,123.83 89.85,123.51 90.10,123.15 90.35,122.79 90.60,122.44 90.85,122.15 91.10,121.95 91.35,121.86 91.60,121.90 91.85,122.08 92.10,122.38 92.35,122.74 92.60,123.14 92.85,123.51 93.10,123.84 93.35,124.10 93.60,124.28 93.85,124.37 94.10,124.38 94.35,124.32 94.60,124.20 94.85,124.05 95.10,123.91 95.35,123.82 95.60,123.81 95.85,123.87 96.10,124.00 96.35,124.15 96.60,124.30 96.85,124.42 97.10,124.49 97.35,124.54 97.60,124.56 97.85,124.55 98.10,124.54 98.35,124.52 98.60,124.50 98.85,124.47 99.10,124.44 99.35,124.40 99.60,124.36 99.85,124.30 100.10,124.22 100.35,124.10 100.60,123.91 100.85,123.58 101.10,123.04 101.35,122.15 101.60,120.74 101.85,118.61 102.10,115.56 102.35,111.49 102.60,106.42 102.85,100.56 103.10,94.39 103.35,88.58 103.60,83.94 103.85,81.24 104.10,80.99 104.35,83.33 104.60,87.73 104.85,93.32 105.10,99.27 105.35,104.90 105.60,109.78 105.85,113.69 106.10,116.61 106.35,118.62 106.60,119.90 106.85,120.65 107.10,121.07 107.35,121.33 107.60,121.57 107.85,121.86 108.10,122.08 108.35,122.28 108.60,122.44 108.85,122.59 109.10,122.72 109.35,122.84 109.60,122.95 109.85,123.05 110.10,123.14 110.35,123.22 110.60,123.30 110.85,123.37 111.10,123.44 111.35,123.50 111.60,123.55 111.85,123.58 112.10,123.58 112.35,123.54 112.60,123.46 112.85,123.39 113.10,123.36 113.35,123.41 113.60,123.53 113.85,123.68 114.10,123.83 114.35,123.95 114.60,124.02 114.85,124.06 115.10,124.08 115.35,124.08 115.60,124.05 115.85,123.99 116.10,123.93 116.35,123.89 116.60,123.90 116.85,123.97 117.10,124.07 117.35,124.17 117.60,124.25 117.85,124.31 118.10,124.34 118.35,124.36 118.60,124.38 118.85,124.39 119.10,124.40 119.35,124.41 119.60,124.42 119.85,124.44 120.10,124.45 120.35,124.46 120.60,124.47 120.85,124.47 121.10,124.48 121.35,124.49 121.60,124.50 121.85,124.51 122.10,124.51 122.35,124.52 122.60,124.53 122.85,124.53 123.10,124.54 123.35,124.55 123.60,124.55 123.85,124.56 124.10,124.56 124.35,124.57 124.60,124.57 124.85,124.58 125.10,124.58 125.35,124.58 125.60,124.59 125.85,124.59 126.10,124.59 126.35,124.60 126.60,124.60 126.85,124.60 127.10,124.61 127.35,124.61 127.60,124.61 127.85,124.61 128.10,124.62 128.35,124.62 128.60,124.62 128.85,124.62 129.10,124.62 129.35,124.63 129.60,124.63 129.85,124.63 130.10,124.63 130.35,124.63 130.60,124.63 130.85,124.63 131.10,124.64 131.35,124.64 131.60,124.64 131.85,124.64 132.10,124.64 132.35,124.64 132.60,124.64 132.85,124.64 133.10,124.64 133.35,124.64 133.60,124.64 133.85,124.65 134.10,124.65 134.35,124.65 134.60,124.65 134.85,124.65 135.10,124.65 135.35,124.65 135.60,124.65 135.85,124.65 136.10,124.65 136.35,124.65 136.60,124.65 136.85,124.65 137.10,124.65 137.35,124.65 137.60,124.65 137.85,124.65 138.10,124.65 138.35,124.65 138.60,124.65 138.85,124.65 139.10,124.65 139.35,124.65 139.60,124.65 139.85,124.65 140.10,124.65 140.35,124.65 140.60,124.65 140.85,124.65 141.10,124.65 141.35,124.65 141.60,124.65 141.85,124.65 142.10,124.65 142.35,124.65 142.60,124.65 142.85,124.65 143.10,124.65 143.35,124.65 143.60,124.64 143.85,124.64 144.10,124.64 144.35,124.64 144.60,124.64 144.85,124.64 145.10,124.64 145.35,124.64 145.60,124.64 145.85,124.64 146.10,124.64 146.35,124.64 146.60,124.64 146.85,124.64 147.10,124.64 147.35,124.64 147.60,124.64 147.85,124.64 148.10,124.64 148.35,124.64 148.60,124.64 148.85,124.64 149.10,124.63 149.35,124.63 149.60,124.63 149.85,124.63 150.10,124.63 150.35,124.63 150.60,124.63 150.85,124.63 151.10,124.63 151.35,124.63 151.60,124.63 151.85,124.63 152.10,124.63 152.35,124.63 152.60,124.63 152.85,124.63 153.10,124.63 153.35,124.63 153.60,124.63 153.85,124.62 154.10,124.62 154.35,124.62 154.60,124.62 154.85,124.62 155.10,124.62 155.35,124.62 155.60,124.62 155.85,124.62 156.10,124.62 156.35,124.62 156.60,124.62 156.85,124.62 157.10,124.62 157.35,124.62 157.60,124.62 157.85,124.61 158.10,124.61 158.35,124.61 158.60,124.61 158.85,124.61 159.10,124.61 159.35,124.61 159.60,124.61 159.85,124.61 160.10,124.61 160.35,124.61 160.60,124.61 160.85,124.61 161.10,124.61 161.35,124.61 161.60,124.61 161.85,124.60 162.10,124.60 162.35,124.60 162.60,124.60 162.85,124.60 163.10,124.60 163.35,124.60 163.60,124.60 163.85,124.60 164.10,124.60 164.35,124.60 164.60,124.60 164.85,124.60 165.10,124.60 165.35,124.60 165.60,124.60 165.85,124.59" fill="none" stroke="#414b58" stroke-width="1.3" stroke-linejoin="round"/>
<text x="88.12" y="77.80" font-size="10.0" font-weight="normal" fill="#231f20" stroke="#231f20" stroke-width="0.18" text-anchor="start" textLength="20.80" lengthAdjust="spacingAndGlyphs">HbA</text>
<text x="64.28" y="102.40" font-size="10.0" font-weight="normal" fill="#231f20" stroke="#231f20" stroke-width="0.18" text-anchor="start" textLength="31.27" lengthAdjust="spacingAndGlyphs">Acetyl-</text>
<text x="22.12" y="115.00" font-size="10.0" font-weight="normal" fill="#231f20" stroke="#231f20" stroke-width="0.18" text-anchor="start" textLength="21.35" lengthAdjust="spacingAndGlyphs">HbH</text>
<text x="46.06" y="116.70" font-size="10.0" font-weight="normal" fill="#231f20" stroke="#231f20" stroke-width="0.18" text-anchor="start" textLength="19.24" lengthAdjust="spacingAndGlyphs">HbF</text>
<text x="69.53" y="114.80" font-size="10.0" font-weight="normal" fill="#231f20" stroke="#231f20" stroke-width="0.18" text-anchor="start" textLength="20.69" lengthAdjust="spacingAndGlyphs">HbA</text>
<text x="108.23" y="119.40" font-size="10.0" font-weight="normal" fill="#231f20" stroke="#231f20" stroke-width="0.18" text-anchor="start" textLength="26.61" lengthAdjust="spacingAndGlyphs">HbA2</text>
<text x="155.26" y="113.00" font-size="10.0" font-weight="normal" fill="#231f20" stroke="#231f20" stroke-width="0.18" text-anchor="start" textLength="53.03" lengthAdjust="spacingAndGlyphs">VCN = 1.89</text>
<polyline points="23.60,236.80 23.85,236.80 24.10,236.80 24.35,236.80 24.60,236.80 24.85,236.80 25.10,236.79 25.35,236.79 25.60,236.79 25.85,236.79 26.10,236.79 26.35,236.79 26.60,236.79 26.85,236.79 27.10,236.79 27.35,236.79 27.60,236.79 27.85,236.78 28.10,236.78 28.35,236.77 28.60,236.76 28.85,236.75 29.10,236.72 29.35,236.69 29.60,236.65 29.85,236.59 30.10,236.52 30.35,236.42 30.60,236.30 30.85,236.15 31.10,235.97 31.35,235.76 31.60,235.52 31.85,235.25 32.10,234.96 32.35,234.66 32.60,234.36 32.85,234.06 33.10,233.79 33.35,233.56 33.60,233.37 33.85,233.24 34.10,233.17 34.35,233.17 34.60,233.19 34.85,233.23 35.10,233.29 35.35,233.38 35.60,233.48 35.85,233.59 36.10,233.72 36.35,233.85 36.60,233.99 36.85,234.13 37.10,234.27 37.35,234.40 37.60,234.53 37.85,234.65 38.10,234.75 38.35,234.85 38.60,234.93 38.85,235.01 39.10,235.07 39.35,235.12 39.60,235.16 39.85,235.20 40.10,235.23 40.35,235.25 40.60,235.28 40.85,235.30 41.10,235.33 41.35,235.36 41.60,235.40 41.85,235.44 42.10,235.49 42.35,235.54 42.60,235.61 42.85,235.67 43.10,235.74 43.35,235.81 43.60,235.88 43.85,235.95 44.10,236.02 44.35,236.08 44.60,236.14 44.85,236.18 45.10,236.20 45.35,236.21 45.60,236.19 45.85,236.14 46.10,236.05 46.35,235.92 46.60,235.73 46.85,235.48 47.10,235.17 47.35,234.79 47.60,234.32 47.85,233.78 48.10,233.17 48.35,232.48 48.60,231.73 48.85,230.94 49.10,230.13 49.35,229.31 49.60,228.51 49.85,227.76 50.10,227.09 50.35,226.50 50.60,226.03 50.85,225.67 51.10,225.41 51.35,225.24 51.60,225.14 51.85,225.12 52.10,225.18 52.35,225.29 52.60,225.47 52.85,225.68 53.10,225.94 53.35,226.22 53.60,226.53 53.85,226.86 54.10,227.19 54.35,227.53 54.60,227.88 54.85,228.24 55.10,228.60 55.35,228.96 55.60,229.33 55.85,229.70 56.10,230.08 56.35,230.46 56.60,230.84 56.85,231.23 57.10,231.62 57.35,232.00 57.60,232.38 57.85,232.75 58.10,233.11 58.35,233.46 58.60,233.80 58.85,234.11 59.10,234.41 59.35,234.69 59.60,234.94 59.85,235.18 60.10,235.39 60.35,235.58 60.60,235.75 60.85,235.91 61.10,236.04 61.35,236.15 61.60,236.25 61.85,236.34 62.10,236.41 62.35,236.47 62.60,236.52 62.85,236.56 63.10,236.60 63.35,236.63 63.60,236.65 63.85,236.67 64.10,236.68 64.35,236.69 64.60,236.70 64.85,236.71 65.10,236.71 65.35,236.72 65.60,236.72 65.85,236.72 66.10,236.72 66.35,236.72 66.60,236.72 66.85,236.72 67.10,236.72 67.35,236.72 67.60,236.72 67.85,236.72 68.10,236.72 68.35,236.72 68.60,236.72 68.85,236.72 69.10,236.72 69.35,236.72 69.60,236.72 69.85,236.72 70.10,236.72 70.35,236.72 70.60,236.72 70.85,236.72 71.10,236.72 71.35,236.72 71.60,236.72 71.85,236.71 72.10,236.71 72.35,236.71 72.60,236.71 72.85,236.71 73.10,236.71 73.35,236.71 73.60,236.71 73.85,236.71 74.10,236.71 74.35,236.71 74.60,236.71 74.85,236.71 75.10,236.71 75.35,236.71 75.60,236.70 75.85,236.70 76.10,236.70 76.35,236.70 76.60,236.70 76.85,236.70 77.10,236.70 77.35,236.70 77.60,236.70 77.85,236.70 78.10,236.70 78.35,236.70 78.60,236.69 78.85,236.69 79.10,236.69 79.35,236.69 79.60,236.69 79.85,236.69 80.10,236.69 80.35,236.69 80.60,236.69 80.85,236.69 81.10,236.68 81.35,236.68 81.60,236.68 81.85,236.68 82.10,236.68 82.35,236.68 82.60,236.68 82.85,236.68 83.10,236.67 83.35,236.67 83.60,236.67 83.85,236.67 84.10,236.67 84.35,236.67 84.60,236.67 84.85,236.66 85.10,236.66 85.35,236.66 85.60,236.66 85.85,236.66 86.10,236.66 86.35,236.65 86.60,236.65 86.85,236.64 87.10,236.64 87.35,236.62 87.60,236.60 87.85,236.56 88.10,236.50 88.35,236.39 88.60,236.22 88.85,235.98 89.10,235.64 89.35,235.18 89.60,234.61 89.85,233.92 90.10,233.17 90.35,232.38 90.60,231.64 90.85,231.02 91.10,230.59 91.35,230.40 91.60,230.49 91.85,230.88 92.10,231.51 92.35,232.30 92.60,233.14 92.85,233.95 93.10,234.65 93.35,235.20 93.60,235.59 93.85,235.79 94.10,235.81 94.35,235.68 94.60,235.42 94.85,235.10 95.10,234.81 95.35,234.62 95.60,234.60 95.85,234.74 96.10,235.01 96.35,235.34 96.60,235.65 96.85,235.90 97.10,236.07 97.35,236.17 97.60,236.21 97.85,236.21 98.10,236.19 98.35,236.15 98.60,236.10 98.85,236.05 99.10,235.98 99.35,235.91 99.60,235.81 99.85,235.69 100.10,235.53 100.35,235.29 100.60,234.89 100.85,234.24 101.10,233.13 101.35,231.31 101.60,228.42 101.85,224.05 102.10,217.82 102.35,209.48 102.60,199.09 102.85,187.10 103.10,174.47 103.35,162.58 103.60,153.07 103.85,147.53 104.10,147.03 104.35,151.82 104.60,160.83 104.85,172.29 105.10,184.46 105.35,195.99 105.60,205.98 105.85,214.00 106.10,219.98 106.35,224.10 106.60,226.72 106.85,228.25 107.10,229.11 107.35,229.65 107.60,230.14 107.85,230.73 108.10,231.20 108.35,231.59 108.60,231.93 108.85,232.23 109.10,232.50 109.35,232.75 109.60,232.97 109.85,233.18 110.10,233.37 110.35,233.54 110.60,233.70 110.85,233.85 111.10,233.99 111.35,234.12 111.60,234.23 111.85,234.32 112.10,234.37 112.35,234.38 112.60,234.36 112.85,234.33 113.10,234.34 113.35,234.43 113.60,234.59 113.85,234.79 114.10,234.97 114.35,235.12 114.60,235.23 114.85,235.30 115.10,235.35 115.35,235.37 115.60,235.37 115.85,235.33 116.10,235.29 116.35,235.28 116.60,235.32 116.85,235.41 117.10,235.53 117.35,235.65 117.60,235.75 117.85,235.82 118.10,235.87 118.35,235.90 118.60,235.93 118.85,235.96 119.10,235.99 119.35,236.02 119.60,236.04 119.85,236.06 120.10,236.09 120.35,236.11 120.60,236.13 120.85,236.15 121.10,236.17 121.35,236.18 121.60,236.20 121.85,236.22 122.10,236.23 122.35,236.25 122.60,236.26 122.85,236.28 123.10,236.29 123.35,236.30 123.60,236.32 123.85,236.33 124.10,236.34 124.35,236.35 124.60,236.36 124.85,236.37 125.10,236.38 125.35,236.39 125.60,236.40 125.85,236.41 126.10,236.41 126.35,236.42 126.60,236.43 126.85,236.44 127.10,236.44 127.35,236.45 127.60,236.46 127.85,236.46 128.10,236.47 128.35,236.47 128.60,236.48 128.85,236.48 129.10,236.49 129.35,236.49 129.60,236.50 129.85,236.50 130.10,236.51 130.35,236.51 130.60,236.52 130.85,236.52 131.10,236.52 131.35,236.53 131.60,236.53 131.85,236.53 132.10,236.54 132.35,236.54 132.60,236.54 132.85,236.54 133.10,236.55 133.35,236.55 133.60,236.55 133.85,236.55 134.10,236.56 134.35,236.56 134.60,236.56 134.85,236.56 135.10,236.56 135.35,236.56 135.60,236.57 135.85,236.57 136.10,236.57 136.35,236.57 136.60,236.57 136.85,236.57 137.10,236.58 137.35,236.58 137.60,236.58 137.85,236.58 138.10,236.58 138.35,236.58 138.60,236.58 138.85,236.58 139.10,236.58 139.35,236.58 139.60,236.59 139.85,236.59 140.10,236.59 140.35,236.59 140.60,236.59 140.85,236.59 141.10,236.59 141.35,236.59 141.60,236.59 141.85,236.59 142.10,236.59 142.35,236.59 142.60,236.59 142.85,236.59 143.10,236.59 143.35,236.59 143.60,236.59 143.85,236.59 144.10,236.59 144.35,236.60 144.60,236.60 144.85,236.60 145.10,236.60 145.35,236.60 145.60,236.60 145.85,236.60 146.10,236.60 146.35,236.60 146.60,236.60 146.85,236.60 147.10,236.60 147.35,236.60 147.60,236.60 147.85,236.60 148.10,236.60 148.35,236.60 148.60,236.60 148.85,236.60 149.10,236.60 149.35,236.60 149.60,236.60 149.85,236.60 150.10,236.60 150.35,236.60 150.60,236.60 150.85,236.60 151.10,236.60 151.35,236.60 151.60,236.60 151.85,236.60 152.10,236.60 152.35,236.60 152.60,236.60 152.85,236.60 153.10,236.60 153.35,236.60 153.60,236.60 153.85,236.60 154.10,236.60 154.35,236.60 154.60,236.60 154.85,236.60 155.10,236.60 155.35,236.60 155.60,236.60 155.85,236.60 156.10,236.60 156.35,236.60 156.60,236.60 156.85,236.60 157.10,236.60 157.35,236.60 157.60,236.60 157.85,236.59 158.10,236.59 158.35,236.59 158.60,236.59 158.85,236.59 159.10,236.59 159.35,236.59 159.60,236.59 159.85,236.59 160.10,236.59 160.35,236.59 160.60,236.59 160.85,236.59 161.10,236.59 161.35,236.59 161.60,236.59 161.85,236.59 162.10,236.59 162.35,236.59 162.60,236.59 162.85,236.59 163.10,236.59 163.35,236.59 163.60,236.59 163.85,236.59 164.10,236.59 164.35,236.59 164.60,236.59 164.85,236.59 165.10,236.59 165.35,236.59 165.60,236.59 165.85,236.59" fill="none" stroke="#414b58" stroke-width="1.3" stroke-linejoin="round"/>
<text x="106.87" y="160.90" font-size="10.0" font-weight="normal" fill="#231f20" stroke="#231f20" stroke-width="0.18" text-anchor="start" textLength="20.85" lengthAdjust="spacingAndGlyphs">HbA</text>
<text x="63.98" y="210.20" font-size="10.0" font-weight="normal" fill="#231f20" stroke="#231f20" stroke-width="0.18" text-anchor="start" textLength="31.58" lengthAdjust="spacingAndGlyphs">Acetyl-</text>
<text x="40.96" y="214.80" font-size="10.0" font-weight="normal" fill="#231f20" stroke="#231f20" stroke-width="0.18" text-anchor="start" textLength="19.24" lengthAdjust="spacingAndGlyphs">HbF</text>
<text x="21.41" y="223.00" font-size="10.0" font-weight="normal" fill="#231f20" stroke="#231f20" stroke-width="0.18" text-anchor="start" textLength="21.78" lengthAdjust="spacingAndGlyphs">HbH</text>
<text x="69.75" y="222.80" font-size="10.0" font-weight="normal" fill="#231f20" stroke="#231f20" stroke-width="0.18" text-anchor="start" textLength="20.28" lengthAdjust="spacingAndGlyphs">HbA</text>
<text x="110.03" y="226.90" font-size="10.0" font-weight="normal" fill="#231f20" stroke="#231f20" stroke-width="0.18" text-anchor="start" textLength="26.61" lengthAdjust="spacingAndGlyphs">HbA2</text>
<text x="155.16" y="212.20" font-size="10.0" font-weight="normal" fill="#231f20" stroke="#231f20" stroke-width="0.18" text-anchor="start" textLength="46.59" lengthAdjust="spacingAndGlyphs">VCN = 3.3</text>
<polyline points="23.60,344.40 23.85,344.40 24.10,344.40 24.35,344.40 24.60,344.39 24.85,344.39 25.10,344.39 25.35,344.39 25.60,344.39 25.85,344.39 26.10,344.39 26.35,344.39 26.60,344.39 26.85,344.39 27.10,344.39 27.35,344.39 27.60,344.39 27.85,344.38 28.10,344.38 28.35,344.38 28.60,344.38 28.85,344.38 29.10,344.37 29.35,344.37 29.60,344.37 29.85,344.36 30.10,344.35 30.35,344.34 30.60,344.32 30.85,344.30 31.10,344.27 31.35,344.23 31.60,344.18 31.85,344.12 32.10,344.04 32.35,343.93 32.60,343.81 32.85,343.67 33.10,343.51 33.35,343.33 33.60,343.13 33.85,342.91 34.10,342.70 34.35,342.48 34.60,342.28 34.85,342.09 35.10,341.93 35.35,341.81 35.60,341.73 35.85,341.69 36.10,341.69 36.35,341.72 36.60,341.79 36.85,341.88 37.10,342.00 37.35,342.13 37.60,342.28 37.85,342.43 38.10,342.57 38.35,342.71 38.60,342.84 38.85,342.96 39.10,343.06 39.35,343.15 39.60,343.22 39.85,343.27 40.10,343.31 40.35,343.34 40.60,343.36 40.85,343.37 41.10,343.37 41.35,343.37 41.60,343.37 41.85,343.36 42.10,343.36 42.35,343.35 42.60,343.35 42.85,343.35 43.10,343.35 43.35,343.35 43.60,343.36 43.85,343.37 44.10,343.38 44.35,343.40 44.60,343.41 44.85,343.43 45.10,343.45 45.35,343.48 45.60,343.50 45.85,343.53 46.10,343.56 46.35,343.59 46.60,343.62 46.85,343.65 47.10,343.68 47.35,343.72 47.60,343.75 47.85,343.78 48.10,343.81 48.35,343.84 48.60,343.87 48.85,343.89 49.10,343.91 49.35,343.93 49.60,343.94 49.85,343.94 50.10,343.92 50.35,343.89 50.60,343.84 50.85,343.76 51.10,343.65 51.35,343.50 51.60,343.30 51.85,343.05 52.10,342.73 52.35,342.34 52.60,341.88 52.85,341.34 53.10,340.73 53.35,340.05 53.60,339.31 53.85,338.54 54.10,337.73 54.35,336.93 54.60,336.15 54.85,335.42 55.10,334.77 55.35,334.21 55.60,333.76 55.85,333.44 56.10,333.21 56.35,333.07 56.60,333.01 56.85,333.02 57.10,333.11 57.35,333.26 57.60,333.46 57.85,333.71 58.10,333.99 58.35,334.30 58.60,334.63 58.85,334.98 59.10,335.33 59.35,335.68 59.60,336.04 59.85,336.39 60.10,336.75 60.35,337.10 60.60,337.46 60.85,337.82 61.10,338.18 61.35,338.54 61.60,338.90 61.85,339.26 62.10,339.62 62.35,339.97 62.60,340.32 62.85,340.66 63.10,340.99 63.35,341.31 63.60,341.62 63.85,341.90 64.10,342.18 64.35,342.43 64.60,342.66 64.85,342.88 65.10,343.07 65.35,343.25 65.60,343.40 65.85,343.54 66.10,343.66 66.35,343.77 66.60,343.86 66.85,343.93 67.10,344.00 67.35,344.05 67.60,344.10 67.85,344.14 68.10,344.17 68.35,344.19 68.60,344.21 68.85,344.23 69.10,344.24 69.35,344.25 69.60,344.26 69.85,344.27 70.10,344.27 70.35,344.27 70.60,344.28 70.85,344.28 71.10,344.28 71.35,344.28 71.60,344.28 71.85,344.28 72.10,344.28 72.35,344.28 72.60,344.28 72.85,344.28 73.10,344.28 73.35,344.28 73.60,344.28 73.85,344.27 74.10,344.27 74.35,344.27 74.60,344.27 74.85,344.27 75.10,344.27 75.35,344.27 75.60,344.27 75.85,344.27 76.10,344.27 76.35,344.27 76.60,344.26 76.85,344.26 77.10,344.26 77.35,344.26 77.60,344.26 77.85,344.26 78.10,344.26 78.35,344.26 78.60,344.26 78.85,344.26 79.10,344.25 79.35,344.25 79.60,344.25 79.85,344.25 80.10,344.25 80.35,344.25 80.60,344.25 80.85,344.25 81.10,344.24 81.35,344.24 81.60,344.24 81.85,344.24 82.10,344.24 82.35,344.24 82.60,344.24 82.85,344.24 83.10,344.23 83.35,344.23 83.60,344.23 83.85,344.23 84.10,344.23 84.35,344.23 84.60,344.22 84.85,344.22 85.10,344.22 85.35,344.22 85.60,344.22 85.85,344.21 86.10,344.21 86.35,344.21 86.60,344.21 86.85,344.20 87.10,344.19 87.35,344.18 87.60,344.15 87.85,344.11 88.10,344.04 88.35,343.92 88.60,343.74 88.85,343.47 89.10,343.10 89.35,342.60 89.60,341.97 89.85,341.22 90.10,340.39 90.35,339.53 90.60,338.72 90.85,338.03 91.10,337.56 91.35,337.35 91.60,337.45 91.85,337.88 92.10,338.58 92.35,339.44 92.60,340.37 92.85,341.25 93.10,342.02 93.35,342.63 93.60,343.05 93.85,343.27 94.10,343.30 94.35,343.15 94.60,342.87 94.85,342.52 95.10,342.20 95.35,342.00 95.60,341.97 95.85,342.13 96.10,342.43 96.35,342.79 96.60,343.14 96.85,343.42 97.10,343.61 97.35,343.72 97.60,343.76 97.85,343.76 98.10,343.74 98.35,343.71 98.60,343.66 98.85,343.61 99.10,343.55 99.35,343.47 99.60,343.38 99.85,343.26 100.10,343.10 100.35,342.87 100.60,342.48 100.85,341.84 101.10,340.76 101.35,338.98 101.60,336.16 101.85,331.89 102.10,325.80 102.35,317.66 102.60,307.51 102.85,295.80 103.10,283.46 103.35,271.85 103.60,262.56 103.85,257.16 104.10,256.66 104.35,261.34 104.60,270.14 104.85,281.33 105.10,293.22 105.35,304.48 105.60,314.24 105.85,322.08 106.10,327.91 106.35,331.94 106.60,334.49 106.85,335.99 107.10,336.82 107.35,337.36 107.60,337.84 107.85,338.41 108.10,338.87 108.35,339.25 108.60,339.58 108.85,339.88 109.10,340.14 109.35,340.38 109.60,340.60 109.85,340.80 110.10,340.98 110.35,341.15 110.60,341.31 110.85,341.46 111.10,341.59 111.35,341.71 111.60,341.82 111.85,341.91 112.10,341.96 112.35,341.97 112.60,341.94 112.85,341.91 113.10,341.92 113.35,342.01 113.60,342.17 113.85,342.36 114.10,342.54 114.35,342.69 114.60,342.80 114.85,342.87 115.10,342.92 115.35,342.94 115.60,342.93 115.85,342.90 116.10,342.86 116.35,342.84 116.60,342.87 116.85,342.96 117.10,343.08 117.35,343.20 117.60,343.30 117.85,343.37 118.10,343.42 118.35,343.45 118.60,343.48 118.85,343.51 119.10,343.54 119.35,343.56 119.60,343.59 119.85,343.61 120.10,343.63 120.35,343.65 120.60,343.67 120.85,343.69 121.10,343.71 121.35,343.73 121.60,343.74 121.85,343.76 122.10,343.77 122.35,343.79 122.60,343.80 122.85,343.82 123.10,343.83 123.35,343.84 123.60,343.85 123.85,343.86 124.10,343.88 124.35,343.89 124.60,343.90 124.85,343.91 125.10,343.91 125.35,343.92 125.60,343.93 125.85,343.94 126.10,343.95 126.35,343.96 126.60,343.96 126.85,343.97 127.10,343.98 127.35,343.98 127.60,343.99 127.85,343.99 128.10,344.00 128.35,344.00 128.60,344.01 128.85,344.01 129.10,344.02 129.35,344.02 129.60,344.03 129.85,344.03 130.10,344.04 130.35,344.04 130.60,344.04 130.85,344.05 131.10,344.05 131.35,344.05 131.60,344.06 131.85,344.06 132.10,344.06 132.35,344.06 132.60,344.07 132.85,344.07 133.10,344.07 133.35,344.07 133.60,344.08 133.85,344.08 134.10,344.08 134.35,344.08 134.60,344.08 134.85,344.09 135.10,344.09 135.35,344.09 135.60,344.09 135.85,344.09 136.10,344.09 136.35,344.09 136.60,344.09 136.85,344.10 137.10,344.10 137.35,344.10 137.60,344.10 137.85,344.10 138.10,344.10 138.35,344.10 138.60,344.10 138.85,344.10 139.10,344.10 139.35,344.10 139.60,344.11 139.85,344.11 140.10,344.11 140.35,344.11 140.60,344.11 140.85,344.11 141.10,344.11 141.35,344.11 141.60,344.11 141.85,344.11 142.10,344.11 142.35,344.11 142.60,344.11 142.85,344.11 143.10,344.11 143.35,344.11 143.60,344.11 143.85,344.11 144.10,344.11 144.35,344.11 144.60,344.11 144.85,344.11 145.10,344.11 145.35,344.11 145.60,344.11 145.85,344.11 146.10,344.11 146.35,344.11 146.60,344.11 146.85,344.11 147.10,344.11 147.35,344.11 147.60,344.11 147.85,344.11 148.10,344.11 148.35,344.11 148.60,344.11 148.85,344.11 149.10,344.11 149.35,344.11 149.60,344.11 149.85,344.11 150.10,344.11 150.35,344.11 150.60,344.11 150.85,344.11 151.10,344.11 151.35,344.11 151.60,344.11 151.85,344.11 152.10,344.11 152.35,344.11 152.60,344.11 152.85,344.11 153.10,344.11 153.35,344.11 153.60,344.11 153.85,344.11 154.10,344.11 154.35,344.11 154.60,344.11 154.85,344.11 155.10,344.10 155.35,344.10 155.60,344.10 155.85,344.10 156.10,344.10 156.35,344.10 156.60,344.10 156.85,344.10 157.10,344.10 157.35,344.10 157.60,344.10 157.85,344.10 158.10,344.10 158.35,344.10 158.60,344.10 158.85,344.10 159.10,344.10 159.35,344.10 159.60,344.10 159.85,344.10 160.10,344.10 160.35,344.10 160.60,344.10 160.85,344.10 161.10,344.10 161.35,344.10 161.60,344.10 161.85,344.10 162.10,344.09 162.35,344.09 162.60,344.09 162.85,344.09 163.10,344.09 163.35,344.09 163.60,344.09 163.85,344.09 164.10,344.09 164.35,344.09 164.60,344.09 164.85,344.09 165.10,344.09 165.35,344.09 165.60,344.09 165.85,344.09" fill="none" stroke="#414b58" stroke-width="1.3" stroke-linejoin="round"/>
<text x="107.24" y="273.40" font-size="10.0" font-weight="normal" fill="#231f20" stroke="#231f20" stroke-width="0.18" text-anchor="start" textLength="20.48" lengthAdjust="spacingAndGlyphs">HbA</text>
<text x="66.08" y="323.40" font-size="10.0" font-weight="normal" fill="#231f20" stroke="#231f20" stroke-width="0.18" text-anchor="start" textLength="31.48" lengthAdjust="spacingAndGlyphs">Acetyl-</text>
<text x="44.85" y="328.00" font-size="10.0" font-weight="normal" fill="#231f20" stroke="#231f20" stroke-width="0.18" text-anchor="start" textLength="19.67" lengthAdjust="spacingAndGlyphs">HbF</text>
<text x="24.52" y="335.20" font-size="10.0" font-weight="normal" fill="#231f20" stroke="#231f20" stroke-width="0.18" text-anchor="start" textLength="21.35" lengthAdjust="spacingAndGlyphs">HbH</text>
<text x="71.23" y="336.00" font-size="10.0" font-weight="normal" fill="#231f20" stroke="#231f20" stroke-width="0.18" text-anchor="start" textLength="20.69" lengthAdjust="spacingAndGlyphs">HbA</text>
<text x="114.33" y="341.60" font-size="10.0" font-weight="normal" fill="#231f20" stroke="#231f20" stroke-width="0.18" text-anchor="start" textLength="26.61" lengthAdjust="spacingAndGlyphs">HbA2</text>
<text x="155.16" y="317.20" font-size="10.0" font-weight="normal" fill="#231f20" stroke="#231f20" stroke-width="0.18" text-anchor="start" textLength="46.65" lengthAdjust="spacingAndGlyphs">VCN = 4.2</text>
<polyline points="23.60,461.00 23.85,460.99 24.10,460.99 24.35,460.99 24.60,460.99 24.85,460.99 25.10,460.98 25.35,460.98 25.60,460.97 25.85,460.97 26.10,460.96 26.35,460.95 26.60,460.94 26.85,460.93 27.10,460.91 27.35,460.89 27.60,460.87 27.85,460.84 28.10,460.81 28.35,460.77 28.60,460.72 28.85,460.67 29.10,460.61 29.35,460.54 29.60,460.47 29.85,460.39 30.10,460.30 30.35,460.20 30.60,460.10 30.85,460.00 31.10,459.90 31.35,459.79 31.60,459.69 31.85,459.59 32.10,459.49 32.35,459.40 32.60,459.33 32.85,459.26 33.10,459.20 33.35,459.16 33.60,459.13 33.85,459.12 34.10,459.12 34.35,459.13 34.60,459.16 34.85,459.19 35.10,459.24 35.35,459.29 35.60,459.34 35.85,459.40 36.10,459.46 36.35,459.52 36.60,459.58 36.85,459.63 37.10,459.69 37.35,459.73 37.60,459.77 37.85,459.81 38.10,459.85 38.35,459.87 38.60,459.90 38.85,459.92 39.10,459.94 39.35,459.95 39.60,459.97 39.85,459.98 40.10,459.99 40.35,460.00 40.60,460.02 40.85,460.03 41.10,460.04 41.35,460.06 41.60,460.08 41.85,460.10 42.10,460.12 42.35,460.14 42.60,460.16 42.85,460.18 43.10,460.20 43.35,460.21 43.60,460.23 43.85,460.23 44.10,460.23 44.35,460.22 44.60,460.19 44.85,460.14 45.10,460.05 45.35,459.93 45.60,459.76 45.85,459.54 46.10,459.25 46.35,458.89 46.60,458.44 46.85,457.90 47.10,457.26 47.35,456.54 47.60,455.73 47.85,454.85 48.10,453.91 48.35,452.94 48.60,451.96 48.85,451.01 49.10,450.12 49.35,449.31 49.60,448.61 49.85,448.04 50.10,447.63 50.35,447.35 50.60,447.16 50.85,447.08 51.10,447.08 51.35,447.17 51.60,447.34 51.85,447.57 52.10,447.85 52.35,448.16 52.60,448.51 52.85,448.87 53.10,449.25 53.35,449.63 53.60,450.02 53.85,450.40 54.10,450.79 54.35,451.17 54.60,451.56 54.85,451.94 55.10,452.34 55.35,452.74 55.60,453.14 55.85,453.56 56.10,453.98 56.35,454.40 56.60,454.83 56.85,455.27 57.10,455.69 57.35,456.12 57.60,456.53 57.85,456.94 58.10,457.33 58.35,457.70 58.60,458.05 58.85,458.37 59.10,458.68 59.35,458.96 59.60,459.21 59.85,459.44 60.10,459.65 60.35,459.83 60.60,459.99 60.85,460.13 61.10,460.26 61.35,460.36 61.60,460.45 61.85,460.52 62.10,460.59 62.35,460.64 62.60,460.68 62.85,460.72 63.10,460.74 63.35,460.77 63.60,460.78 63.85,460.80 64.10,460.81 64.35,460.82 64.60,460.82 64.85,460.83 65.10,460.83 65.35,460.83 65.60,460.83 65.85,460.83 66.10,460.83 66.35,460.83 66.60,460.83 66.85,460.83 67.10,460.83 67.35,460.83 67.60,460.83 67.85,460.83 68.10,460.83 68.35,460.83 68.60,460.83 68.85,460.83 69.10,460.82 69.35,460.82 69.60,460.82 69.85,460.82 70.10,460.82 70.35,460.82 70.60,460.82 70.85,460.82 71.10,460.82 71.35,460.81 71.60,460.81 71.85,460.81 72.10,460.81 72.35,460.81 72.60,460.81 72.85,460.81 73.10,460.81 73.35,460.80 73.60,460.80 73.85,460.80 74.10,460.80 74.35,460.80 74.60,460.80 74.85,460.80 75.10,460.80 75.35,460.79 75.60,460.79 75.85,460.79 76.10,460.79 76.35,460.79 76.60,460.79 76.85,460.79 77.10,460.78 77.35,460.78 77.60,460.78 77.85,460.78 78.10,460.78 78.35,460.78 78.60,460.78 78.85,460.77 79.10,460.77 79.35,460.77 79.60,460.77 79.85,460.77 80.10,460.77 80.35,460.77 80.60,460.76 80.85,460.76 81.10,460.76 81.35,460.76 81.60,460.76 81.85,460.76 82.10,460.75 82.35,460.75 82.60,460.75 82.85,460.75 83.10,460.75 83.35,460.74 83.60,460.74 83.85,460.74 84.10,460.74 84.35,460.74 84.60,460.73 84.85,460.73 85.10,460.73 85.35,460.73 85.60,460.72 85.85,460.72 86.10,460.72 86.35,460.72 86.60,460.71 86.85,460.71 87.10,460.70 87.35,460.68 87.60,460.65 87.85,460.60 88.10,460.51 88.35,460.37 88.60,460.16 88.85,459.84 89.10,459.39 89.35,458.80 89.60,458.04 89.85,457.15 90.10,456.16 90.35,455.14 90.60,454.17 90.85,453.36 91.10,452.79 91.35,452.55 91.60,452.67 91.85,453.18 92.10,454.01 92.35,455.04 92.60,456.14 92.85,457.19 93.10,458.11 93.35,458.84 93.60,459.33 93.85,459.60 94.10,459.63 94.35,459.46 94.60,459.12 94.85,458.71 95.10,458.33 95.35,458.09 95.60,458.06 95.85,458.25 96.10,458.60 96.35,459.03 96.60,459.45 96.85,459.78 97.10,460.01 97.35,460.14 97.60,460.20 97.85,460.21 98.10,460.19 98.35,460.15 98.60,460.10 98.85,460.04 99.10,459.97 99.35,459.88 99.60,459.78 99.85,459.65 100.10,459.48 100.35,459.21 100.60,458.79 100.85,458.08 101.10,456.89 101.35,454.92 101.60,451.80 101.85,447.08 102.10,440.35 102.35,431.34 102.60,420.12 102.85,407.17 103.10,393.53 103.35,380.69 103.60,370.42 103.85,364.44 104.10,363.90 104.35,369.07 104.60,378.79 104.85,391.17 105.10,404.31 105.35,416.76 105.60,427.56 105.85,436.22 106.10,442.67 106.35,447.12 106.60,449.95 106.85,451.60 107.10,452.52 107.35,453.11 107.60,453.64 107.85,454.27 108.10,454.78 108.35,455.21 108.60,455.57 108.85,455.90 109.10,456.19 109.35,456.45 109.60,456.70 109.85,456.92 110.10,457.12 110.35,457.31 110.60,457.48 110.85,457.64 111.10,457.79 111.35,457.93 111.60,458.05 111.85,458.15 112.10,458.21 112.35,458.23 112.60,458.21 112.85,458.19 113.10,458.21 113.35,458.30 113.60,458.47 113.85,458.67 114.10,458.86 114.35,459.01 114.60,459.12 114.85,459.20 115.10,459.25 115.35,459.28 115.60,459.28 115.85,459.25 116.10,459.21 116.35,459.20 116.60,459.24 116.85,459.33 117.10,459.46 117.35,459.58 117.60,459.68 117.85,459.75 118.10,459.80 118.35,459.84 118.60,459.88 118.85,459.91 119.10,459.93 119.35,459.96 119.60,459.99 119.85,460.01 120.10,460.04 120.35,460.06 120.60,460.08 120.85,460.10 121.10,460.12 121.35,460.14 121.60,460.16 121.85,460.18 122.10,460.19 122.35,460.21 122.60,460.22 122.85,460.24 123.10,460.25 123.35,460.26 123.60,460.28 123.85,460.29 124.10,460.30 124.35,460.31 124.60,460.32 124.85,460.33 125.10,460.34 125.35,460.35 125.60,460.36 125.85,460.37 126.10,460.38 126.35,460.39 126.60,460.39 126.85,460.40 127.10,460.41 127.35,460.42 127.60,460.42 127.85,460.43 128.10,460.43 128.35,460.44 128.60,460.44 128.85,460.45 129.10,460.45 129.35,460.46 129.60,460.46 129.85,460.47 130.10,460.47 130.35,460.48 130.60,460.48 130.85,460.48 131.10,460.49 131.35,460.49 131.60,460.49 131.85,460.49 132.10,460.50 132.35,460.50 132.60,460.50 132.85,460.51 133.10,460.51 133.35,460.51 133.60,460.51 133.85,460.51 134.10,460.52 134.35,460.52 134.60,460.52 134.85,460.52 135.10,460.52 135.35,460.52 135.60,460.52 135.85,460.53 136.10,460.53 136.35,460.53 136.60,460.53 136.85,460.53 137.10,460.53 137.35,460.53 137.60,460.53 137.85,460.53 138.10,460.53 138.35,460.53 138.60,460.54 138.85,460.54 139.10,460.54 139.35,460.54 139.60,460.54 139.85,460.54 140.10,460.54 140.35,460.54 140.60,460.54 140.85,460.54 141.10,460.54 141.35,460.54 141.60,460.54 141.85,460.54 142.10,460.54 142.35,460.54 142.60,460.54 142.85,460.54 143.10,460.54 143.35,460.54 143.60,460.54 143.85,460.54 144.10,460.54 144.35,460.54 144.60,460.54 144.85,460.54 145.10,460.54 145.35,460.54 145.60,460.54 145.85,460.54 146.10,460.54 146.35,460.54 146.60,460.54 146.85,460.54 147.10,460.53 147.35,460.53 147.60,460.53 147.85,460.53 148.10,460.53 148.35,460.53 148.60,460.53 148.85,460.53 149.10,460.53 149.35,460.53 149.60,460.53 149.85,460.53 150.10,460.53 150.35,460.53 150.60,460.53 150.85,460.53 151.10,460.53 151.35,460.53 151.60,460.53 151.85,460.53 152.10,460.53 152.35,460.52 152.60,460.52 152.85,460.52 153.10,460.52 153.35,460.52 153.60,460.52 153.85,460.52 154.10,460.52 154.35,460.52 154.60,460.52 154.85,460.52 155.10,460.52 155.35,460.52 155.60,460.52 155.85,460.52 156.10,460.52 156.35,460.51 156.60,460.51 156.85,460.51 157.10,460.51 157.35,460.51 157.60,460.51 157.85,460.51 158.10,460.51 158.35,460.51 158.60,460.51 158.85,460.51 159.10,460.51 159.35,460.51 159.60,460.51 159.85,460.51 160.10,460.50 160.35,460.50 160.60,460.50 160.85,460.50 161.10,460.50 161.35,460.50 161.60,460.50 161.85,460.50 162.10,460.50 162.35,460.50 162.60,460.50 162.85,460.50 163.10,460.50 163.35,460.49 163.60,460.49 163.85,460.49 164.10,460.49 164.35,460.49 164.60,460.49 164.85,460.49 165.10,460.49 165.35,460.49 165.60,460.49 165.85,460.49" fill="none" stroke="#414b58" stroke-width="1.3" stroke-linejoin="round"/>
<text x="106.85" y="384.60" font-size="10.0" font-weight="normal" fill="#231f20" stroke="#231f20" stroke-width="0.18" text-anchor="start" textLength="20.28" lengthAdjust="spacingAndGlyphs">HbA</text>
<text x="64.08" y="433.40" font-size="10.0" font-weight="normal" fill="#231f20" stroke="#231f20" stroke-width="0.18" text-anchor="start" textLength="31.48" lengthAdjust="spacingAndGlyphs">Acetyl-</text>
<text x="40.25" y="438.00" font-size="10.0" font-weight="normal" fill="#231f20" stroke="#231f20" stroke-width="0.18" text-anchor="start" textLength="19.67" lengthAdjust="spacingAndGlyphs">HbF</text>
<text x="22.51" y="447.50" font-size="10.0" font-weight="normal" fill="#231f20" stroke="#231f20" stroke-width="0.18" text-anchor="start" textLength="21.78" lengthAdjust="spacingAndGlyphs">HbH</text>
<text x="69.12" y="446.00" font-size="10.0" font-weight="normal" fill="#231f20" stroke="#231f20" stroke-width="0.18" text-anchor="start" textLength="20.90" lengthAdjust="spacingAndGlyphs">HbA</text>
<text x="108.73" y="450.60" font-size="10.0" font-weight="normal" fill="#231f20" stroke="#231f20" stroke-width="0.18" text-anchor="start" textLength="26.61" lengthAdjust="spacingAndGlyphs">HbA2</text>
<text x="155.16" y="426.60" font-size="10.0" font-weight="normal" fill="#231f20" stroke="#231f20" stroke-width="0.18" text-anchor="start" textLength="46.14" lengthAdjust="spacingAndGlyphs">VCN = 4.7</text>
<polyline points="23.60,578.18 23.85,578.18 24.10,578.17 24.35,578.17 24.60,578.16 24.85,578.16 25.10,578.15 25.35,578.14 25.60,578.13 25.85,578.12 26.10,578.10 26.35,578.09 26.60,578.07 26.85,578.05 27.10,578.02 27.35,578.00 27.60,577.97 27.85,577.93 28.10,577.90 28.35,577.86 28.60,577.81 28.85,577.77 29.10,577.72 29.35,577.66 29.60,577.60 29.85,577.54 30.10,577.48 30.35,577.42 30.60,577.35 30.85,577.28 31.10,577.22 31.35,577.15 31.60,577.09 31.85,577.03 32.10,576.97 32.35,576.92 32.60,576.87 32.85,576.82 33.10,576.79 33.35,576.75 33.60,576.73 33.85,576.71 34.10,576.69 34.35,576.69 34.60,576.68 34.85,576.69 35.10,576.70 35.35,576.71 35.60,576.72 35.85,576.74 36.10,576.76 36.35,576.78 36.60,576.80 36.85,576.82 37.10,576.84 37.35,576.86 37.60,576.88 37.85,576.90 38.10,576.91 38.35,576.93 38.60,576.94 38.85,576.95 39.10,576.95 39.35,576.96 39.60,576.96 39.85,576.97 40.10,576.97 40.35,576.97 40.60,576.97 40.85,576.97 41.10,576.97 41.35,576.97 41.60,576.97 41.85,576.97 42.10,576.97 42.35,576.98 42.60,576.98 42.85,576.99 43.10,577.00 43.35,577.01 43.60,577.02 43.85,577.03 44.10,577.04 44.35,577.06 44.60,577.07 44.85,577.09 45.10,577.11 45.35,577.13 45.60,577.15 45.85,577.17 46.10,577.20 46.35,577.22 46.60,577.24 46.85,577.27 47.10,577.29 47.35,577.32 47.60,577.34 47.85,577.36 48.10,577.38 48.35,577.40 48.60,577.41 48.85,577.42 49.10,577.41 49.35,577.39 49.60,577.35 49.85,577.29 50.10,577.20 50.35,577.06 50.60,576.87 50.85,576.63 51.10,576.31 51.35,575.91 51.60,575.42 51.85,574.83 52.10,574.14 52.35,573.35 52.60,572.47 52.85,571.51 53.10,570.49 53.35,569.44 53.60,568.38 53.85,567.35 54.10,566.38 54.35,565.51 54.60,564.76 54.85,564.15 55.10,563.71 55.35,563.40 55.60,563.20 55.85,563.10 56.10,563.08 56.35,563.15 56.60,563.29 56.85,563.48 57.10,563.71 57.35,563.97 57.60,564.24 57.85,564.52 58.10,564.81 58.35,565.09 58.60,565.36 58.85,565.63 59.10,565.89 59.35,566.16 59.60,566.43 59.85,566.72 60.10,567.02 60.35,567.34 60.60,567.68 60.85,568.05 61.10,568.45 61.35,568.88 61.60,569.33 61.85,569.80 62.10,570.29 62.35,570.80 62.60,571.31 62.85,571.82 63.10,572.33 63.35,572.83 63.60,573.32 63.85,573.79 64.10,574.24 64.35,574.66 64.60,575.05 64.85,575.42 65.10,575.75 65.35,576.05 65.60,576.32 65.85,576.56 66.10,576.78 66.35,576.96 66.60,577.13 66.85,577.27 67.10,577.39 67.35,577.49 67.60,577.57 67.85,577.64 68.10,577.70 68.35,577.75 68.60,577.78 68.85,577.81 69.10,577.84 69.35,577.86 69.60,577.87 69.85,577.88 70.10,577.89 70.35,577.90 70.60,577.90 70.85,577.90 71.10,577.91 71.35,577.91 71.60,577.91 71.85,577.91 72.10,577.91 72.35,577.90 72.60,577.90 72.85,577.90 73.10,577.90 73.35,577.90 73.60,577.90 73.85,577.90 74.10,577.89 74.35,577.89 74.60,577.89 74.85,577.89 75.10,577.89 75.35,577.89 75.60,577.88 75.85,577.88 76.10,577.88 76.35,577.88 76.60,577.88 76.85,577.87 77.10,577.87 77.35,577.87 77.60,577.87 77.85,577.87 78.10,577.86 78.35,577.86 78.60,577.86 78.85,577.86 79.10,577.86 79.35,577.85 79.60,577.85 79.85,577.85 80.10,577.85 80.35,577.85 80.60,577.84 80.85,577.84 81.10,577.84 81.35,577.84 81.60,577.83 81.85,577.83 82.10,577.83 82.35,577.83 82.60,577.83 82.85,577.82 83.10,577.82 83.35,577.82 83.60,577.82 83.85,577.81 84.10,577.81 84.35,577.81 84.60,577.80 84.85,577.80 85.10,577.80 85.35,577.80 85.60,577.79 85.85,577.79 86.10,577.79 86.35,577.78 86.60,577.78 86.85,577.77 87.10,577.76 87.35,577.74 87.60,577.71 87.85,577.66 88.10,577.57 88.35,577.43 88.60,577.21 88.85,576.89 89.10,576.44 89.35,575.83 89.60,575.07 89.85,574.17 90.10,573.16 90.35,572.13 90.60,571.15 90.85,570.33 91.10,569.76 91.35,569.50 91.60,569.63 91.85,570.14 92.10,570.98 92.35,572.02 92.60,573.14 92.85,574.20 93.10,575.13 93.35,575.87 93.60,576.37 93.85,576.64 94.10,576.67 94.35,576.49 94.60,576.16 94.85,575.74 95.10,575.35 95.35,575.11 95.60,575.08 95.85,575.27 96.10,575.63 96.35,576.06 96.60,576.48 96.85,576.82 97.10,577.05 97.35,577.18 97.60,577.24 97.85,577.25 98.10,577.23 98.35,577.19 98.60,577.14 98.85,577.07 99.10,577.00 99.35,576.92 99.60,576.82 99.85,576.69 100.10,576.51 100.35,576.25 100.60,575.82 100.85,575.11 101.10,573.91 101.35,571.94 101.60,568.80 101.85,564.07 102.10,557.32 102.35,548.28 102.60,537.02 102.85,524.04 103.10,510.35 103.35,497.47 103.60,487.17 103.85,481.17 104.10,480.63 104.35,485.82 104.60,495.57 104.85,507.98 105.10,521.17 105.35,533.65 105.60,544.48 105.85,553.17 106.10,559.64 106.35,564.10 106.60,566.94 106.85,568.60 107.10,569.52 107.35,570.11 107.60,570.65 107.85,571.28 108.10,571.78 108.35,572.21 108.60,572.58 108.85,572.90 109.10,573.20 109.35,573.46 109.60,573.70 109.85,573.92 110.10,574.13 110.35,574.31 110.60,574.49 110.85,574.65 111.10,574.80 111.35,574.93 111.60,575.06 111.85,575.15 112.10,575.21 112.35,575.23 112.60,575.22 112.85,575.19 113.10,575.21 113.35,575.31 113.60,575.47 113.85,575.67 114.10,575.86 114.35,576.01 114.60,576.13 114.85,576.20 115.10,576.26 115.35,576.28 115.60,576.28 115.85,576.25 116.10,576.21 116.35,576.20 116.60,576.24 116.85,576.33 117.10,576.46 117.35,576.58 117.60,576.68 117.85,576.75 118.10,576.80 118.35,576.84 118.60,576.87 118.85,576.90 119.10,576.93 119.35,576.96 119.60,576.98 119.85,577.01 120.10,577.03 120.35,577.05 120.60,577.07 120.85,577.09 121.10,577.11 121.35,577.13 121.60,577.15 121.85,577.17 122.10,577.18 122.35,577.20 122.60,577.21 122.85,577.23 123.10,577.24 123.35,577.25 123.60,577.27 123.85,577.28 124.10,577.29 124.35,577.30 124.60,577.31 124.85,577.32 125.10,577.33 125.35,577.34 125.60,577.35 125.85,577.35 126.10,577.36 126.35,577.37 126.60,577.38 126.85,577.38 127.10,577.39 127.35,577.40 127.60,577.40 127.85,577.41 128.10,577.41 128.35,577.42 128.60,577.42 128.85,577.43 129.10,577.43 129.35,577.44 129.60,577.44 129.85,577.44 130.10,577.45 130.35,577.45 130.60,577.45 130.85,577.46 131.10,577.46 131.35,577.46 131.60,577.46 131.85,577.47 132.10,577.47 132.35,577.47 132.60,577.47 132.85,577.47 133.10,577.48 133.35,577.48 133.60,577.48 133.85,577.48 134.10,577.48 134.35,577.48 134.60,577.48 134.85,577.49 135.10,577.49 135.35,577.49 135.60,577.49 135.85,577.49 136.10,577.49 136.35,577.49 136.60,577.49 136.85,577.49 137.10,577.49 137.35,577.49 137.60,577.49 137.85,577.49 138.10,577.49 138.35,577.49 138.60,577.49 138.85,577.49 139.10,577.49 139.35,577.49 139.60,577.49 139.85,577.49 140.10,577.49 140.35,577.49 140.60,577.49 140.85,577.49 141.10,577.49 141.35,577.49 141.60,577.49 141.85,577.49 142.10,577.49 142.35,577.49 142.60,577.49 142.85,577.49 143.10,577.49 143.35,577.49 143.60,577.49 143.85,577.48 144.10,577.48 144.35,577.48 144.60,577.48 144.85,577.48 145.10,577.48 145.35,577.48 145.60,577.48 145.85,577.48 146.10,577.48 146.35,577.48 146.60,577.48 146.85,577.48 147.10,577.47 147.35,577.47 147.60,577.47 147.85,577.47 148.10,577.47 148.35,577.47 148.60,577.47 148.85,577.47 149.10,577.47 149.35,577.47 149.60,577.47 149.85,577.46 150.10,577.46 150.35,577.46 150.60,577.46 150.85,577.46 151.10,577.46 151.35,577.46 151.60,577.46 151.85,577.46 152.10,577.45 152.35,577.45 152.60,577.45 152.85,577.45 153.10,577.45 153.35,577.45 153.60,577.45 153.85,577.45 154.10,577.45 154.35,577.44 154.60,577.44 154.85,577.44 155.10,577.44 155.35,577.44 155.60,577.44 155.85,577.44 156.10,577.44 156.35,577.44 156.60,577.43 156.85,577.43 157.10,577.43 157.35,577.43 157.60,577.43 157.85,577.43 158.10,577.43 158.35,577.43 158.60,577.42 158.85,577.42 159.10,577.42 159.35,577.42 159.60,577.42 159.85,577.42 160.10,577.42 160.35,577.42 160.60,577.41 160.85,577.41 161.10,577.41 161.35,577.41 161.60,577.41 161.85,577.41 162.10,577.41 162.35,577.41 162.60,577.40 162.85,577.40 163.10,577.40 163.35,577.40 163.60,577.40 163.85,577.40 164.10,577.40 164.35,577.40 164.60,577.39 164.85,577.39 165.10,577.39 165.35,577.39 165.60,577.39 165.85,577.39" fill="none" stroke="#414b58" stroke-width="1.3" stroke-linejoin="round"/>
<text x="105.62" y="501.50" font-size="10.0" font-weight="normal" fill="#231f20" stroke="#231f20" stroke-width="0.18" text-anchor="start" textLength="20.90" lengthAdjust="spacingAndGlyphs">HbA</text>
<text x="67.18" y="551.40" font-size="10.0" font-weight="normal" fill="#231f20" stroke="#231f20" stroke-width="0.18" text-anchor="start" textLength="31.78" lengthAdjust="spacingAndGlyphs">Acetyl-</text>
<text x="44.86" y="556.80" font-size="10.0" font-weight="normal" fill="#231f20" stroke="#231f20" stroke-width="0.18" text-anchor="start" textLength="19.46" lengthAdjust="spacingAndGlyphs">HbF</text>
<text x="28.21" y="566.40" font-size="10.0" font-weight="normal" fill="#231f20" stroke="#231f20" stroke-width="0.18" text-anchor="start" textLength="21.78" lengthAdjust="spacingAndGlyphs">HbH</text>
<text x="72.63" y="564.30" font-size="10.0" font-weight="normal" fill="#231f20" stroke="#231f20" stroke-width="0.18" text-anchor="start" textLength="20.59" lengthAdjust="spacingAndGlyphs">HbA</text>
<text x="110.62" y="570.00" font-size="10.0" font-weight="normal" fill="#231f20" stroke="#231f20" stroke-width="0.18" text-anchor="start" textLength="26.92" lengthAdjust="spacingAndGlyphs">HbA2</text>
<text x="155.16" y="557.40" font-size="10.0" font-weight="normal" fill="#231f20" stroke="#231f20" stroke-width="0.18" text-anchor="start" textLength="46.57" lengthAdjust="spacingAndGlyphs">VCN = 6.5</text>
<path d="M196.9,93.6 L216.6,94.5 Q218.6,94.7 218.6,96.8 L218.6,333" fill="none" stroke="#2a2a2a" stroke-width="1.2"/>
<path d="M218.6,356.6 L218.6,582.3 Q218.6,584 216.8,584.2 L196.9,585.6" fill="none" stroke="#2a2a2a" stroke-width="1.2"/>
<text x="184.51" y="349.60" font-size="10.0" font-weight="normal" fill="#231f20" stroke="#231f20" stroke-width="0.18" text-anchor="start" textLength="47.42" lengthAdjust="spacingAndGlyphs">+ ALS20αI</text>
</svg></div></body></html>
